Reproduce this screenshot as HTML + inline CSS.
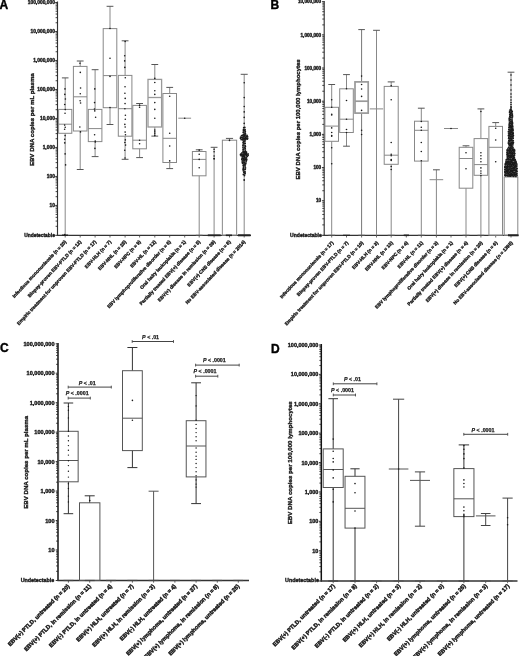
<!DOCTYPE html>
<html><head><meta charset="utf-8"><style>
html,body{margin:0;padding:0;background:#fff;}
svg{display:block;font-family:"Liberation Sans", sans-serif;will-change:transform;}
</style></head><body>
<svg width="520" height="656" viewBox="0 0 520 656">
<rect width="520" height="656" fill="#fff"/>
<line x1="57.50" y1="1.50" x2="57.50" y2="235.90" stroke="#333" stroke-width="1.15"/>
<line x1="55.20" y1="2.50" x2="57.50" y2="2.50" stroke="#333" stroke-width="1.0"/>
<text x="54.90" y="4.26" font-size="4.9" text-anchor="end" font-weight="bold" fill="#1a1a1a" stroke="#1a1a1a" stroke-width="0.36">100,000,000</text>
<line x1="55.20" y1="31.49" x2="57.50" y2="31.49" stroke="#333" stroke-width="1.0"/>
<text x="54.90" y="33.25" font-size="4.9" text-anchor="end" font-weight="bold" fill="#1a1a1a" stroke="#1a1a1a" stroke-width="0.36">10,000,000</text>
<line x1="55.20" y1="60.48" x2="57.50" y2="60.48" stroke="#333" stroke-width="1.0"/>
<text x="54.90" y="62.24" font-size="4.9" text-anchor="end" font-weight="bold" fill="#1a1a1a" stroke="#1a1a1a" stroke-width="0.36">1,000,000</text>
<line x1="55.20" y1="89.47" x2="57.50" y2="89.47" stroke="#333" stroke-width="1.0"/>
<text x="54.90" y="91.23" font-size="4.9" text-anchor="end" font-weight="bold" fill="#1a1a1a" stroke="#1a1a1a" stroke-width="0.36">100,000</text>
<line x1="55.20" y1="118.46" x2="57.50" y2="118.46" stroke="#333" stroke-width="1.0"/>
<text x="54.90" y="120.22" font-size="4.9" text-anchor="end" font-weight="bold" fill="#1a1a1a" stroke="#1a1a1a" stroke-width="0.36">10,000</text>
<line x1="55.20" y1="147.45" x2="57.50" y2="147.45" stroke="#333" stroke-width="1.0"/>
<text x="54.90" y="149.21" font-size="4.9" text-anchor="end" font-weight="bold" fill="#1a1a1a" stroke="#1a1a1a" stroke-width="0.36">1,000</text>
<line x1="55.20" y1="176.44" x2="57.50" y2="176.44" stroke="#333" stroke-width="1.0"/>
<text x="54.90" y="178.20" font-size="4.9" text-anchor="end" font-weight="bold" fill="#1a1a1a" stroke="#1a1a1a" stroke-width="0.36">100</text>
<line x1="55.20" y1="205.43" x2="57.50" y2="205.43" stroke="#333" stroke-width="1.0"/>
<text x="54.90" y="207.19" font-size="4.9" text-anchor="end" font-weight="bold" fill="#1a1a1a" stroke="#1a1a1a" stroke-width="0.36">10</text>
<line x1="55.20" y1="235.30" x2="57.50" y2="235.30" stroke="#333" stroke-width="1.0"/>
<text x="54.90" y="237.06" font-size="4.9" text-anchor="end" font-weight="bold" fill="#1a1a1a" stroke="#1a1a1a" stroke-width="0.36">Undetectable</text>
<line x1="55.60" y1="22.76" x2="57.50" y2="22.76" stroke="#222" stroke-width="0.85"/>
<line x1="55.60" y1="17.66" x2="57.50" y2="17.66" stroke="#222" stroke-width="0.85"/>
<line x1="55.60" y1="14.04" x2="57.50" y2="14.04" stroke="#222" stroke-width="0.85"/>
<line x1="55.60" y1="11.23" x2="57.50" y2="11.23" stroke="#222" stroke-width="0.85"/>
<line x1="55.60" y1="8.93" x2="57.50" y2="8.93" stroke="#222" stroke-width="0.85"/>
<line x1="55.60" y1="6.99" x2="57.50" y2="6.99" stroke="#222" stroke-width="0.85"/>
<line x1="55.60" y1="5.31" x2="57.50" y2="5.31" stroke="#222" stroke-width="0.85"/>
<line x1="55.60" y1="3.83" x2="57.50" y2="3.83" stroke="#222" stroke-width="0.85"/>
<line x1="55.60" y1="51.75" x2="57.50" y2="51.75" stroke="#222" stroke-width="0.85"/>
<line x1="55.60" y1="46.65" x2="57.50" y2="46.65" stroke="#222" stroke-width="0.85"/>
<line x1="55.60" y1="43.03" x2="57.50" y2="43.03" stroke="#222" stroke-width="0.85"/>
<line x1="55.60" y1="40.22" x2="57.50" y2="40.22" stroke="#222" stroke-width="0.85"/>
<line x1="55.60" y1="37.92" x2="57.50" y2="37.92" stroke="#222" stroke-width="0.85"/>
<line x1="55.60" y1="35.98" x2="57.50" y2="35.98" stroke="#222" stroke-width="0.85"/>
<line x1="55.60" y1="34.30" x2="57.50" y2="34.30" stroke="#222" stroke-width="0.85"/>
<line x1="55.60" y1="32.82" x2="57.50" y2="32.82" stroke="#222" stroke-width="0.85"/>
<line x1="55.60" y1="80.74" x2="57.50" y2="80.74" stroke="#222" stroke-width="0.85"/>
<line x1="55.60" y1="75.64" x2="57.50" y2="75.64" stroke="#222" stroke-width="0.85"/>
<line x1="55.60" y1="72.02" x2="57.50" y2="72.02" stroke="#222" stroke-width="0.85"/>
<line x1="55.60" y1="69.21" x2="57.50" y2="69.21" stroke="#222" stroke-width="0.85"/>
<line x1="55.60" y1="66.91" x2="57.50" y2="66.91" stroke="#222" stroke-width="0.85"/>
<line x1="55.60" y1="64.97" x2="57.50" y2="64.97" stroke="#222" stroke-width="0.85"/>
<line x1="55.60" y1="63.29" x2="57.50" y2="63.29" stroke="#222" stroke-width="0.85"/>
<line x1="55.60" y1="61.81" x2="57.50" y2="61.81" stroke="#222" stroke-width="0.85"/>
<line x1="55.60" y1="109.73" x2="57.50" y2="109.73" stroke="#222" stroke-width="0.85"/>
<line x1="55.60" y1="104.63" x2="57.50" y2="104.63" stroke="#222" stroke-width="0.85"/>
<line x1="55.60" y1="101.01" x2="57.50" y2="101.01" stroke="#222" stroke-width="0.85"/>
<line x1="55.60" y1="98.20" x2="57.50" y2="98.20" stroke="#222" stroke-width="0.85"/>
<line x1="55.60" y1="95.90" x2="57.50" y2="95.90" stroke="#222" stroke-width="0.85"/>
<line x1="55.60" y1="93.96" x2="57.50" y2="93.96" stroke="#222" stroke-width="0.85"/>
<line x1="55.60" y1="92.28" x2="57.50" y2="92.28" stroke="#222" stroke-width="0.85"/>
<line x1="55.60" y1="90.80" x2="57.50" y2="90.80" stroke="#222" stroke-width="0.85"/>
<line x1="55.60" y1="138.72" x2="57.50" y2="138.72" stroke="#222" stroke-width="0.85"/>
<line x1="55.60" y1="133.62" x2="57.50" y2="133.62" stroke="#222" stroke-width="0.85"/>
<line x1="55.60" y1="130.00" x2="57.50" y2="130.00" stroke="#222" stroke-width="0.85"/>
<line x1="55.60" y1="127.19" x2="57.50" y2="127.19" stroke="#222" stroke-width="0.85"/>
<line x1="55.60" y1="124.89" x2="57.50" y2="124.89" stroke="#222" stroke-width="0.85"/>
<line x1="55.60" y1="122.95" x2="57.50" y2="122.95" stroke="#222" stroke-width="0.85"/>
<line x1="55.60" y1="121.27" x2="57.50" y2="121.27" stroke="#222" stroke-width="0.85"/>
<line x1="55.60" y1="119.79" x2="57.50" y2="119.79" stroke="#222" stroke-width="0.85"/>
<line x1="55.60" y1="167.71" x2="57.50" y2="167.71" stroke="#222" stroke-width="0.85"/>
<line x1="55.60" y1="162.61" x2="57.50" y2="162.61" stroke="#222" stroke-width="0.85"/>
<line x1="55.60" y1="158.99" x2="57.50" y2="158.99" stroke="#222" stroke-width="0.85"/>
<line x1="55.60" y1="156.18" x2="57.50" y2="156.18" stroke="#222" stroke-width="0.85"/>
<line x1="55.60" y1="153.88" x2="57.50" y2="153.88" stroke="#222" stroke-width="0.85"/>
<line x1="55.60" y1="151.94" x2="57.50" y2="151.94" stroke="#222" stroke-width="0.85"/>
<line x1="55.60" y1="150.26" x2="57.50" y2="150.26" stroke="#222" stroke-width="0.85"/>
<line x1="55.60" y1="148.78" x2="57.50" y2="148.78" stroke="#222" stroke-width="0.85"/>
<line x1="55.60" y1="196.70" x2="57.50" y2="196.70" stroke="#222" stroke-width="0.85"/>
<line x1="55.60" y1="191.60" x2="57.50" y2="191.60" stroke="#222" stroke-width="0.85"/>
<line x1="55.60" y1="187.98" x2="57.50" y2="187.98" stroke="#222" stroke-width="0.85"/>
<line x1="55.60" y1="185.17" x2="57.50" y2="185.17" stroke="#222" stroke-width="0.85"/>
<line x1="55.60" y1="182.87" x2="57.50" y2="182.87" stroke="#222" stroke-width="0.85"/>
<line x1="55.60" y1="180.93" x2="57.50" y2="180.93" stroke="#222" stroke-width="0.85"/>
<line x1="55.60" y1="179.25" x2="57.50" y2="179.25" stroke="#222" stroke-width="0.85"/>
<line x1="55.60" y1="177.77" x2="57.50" y2="177.77" stroke="#222" stroke-width="0.85"/>
<line x1="55.60" y1="226.31" x2="57.50" y2="226.31" stroke="#222" stroke-width="0.85"/>
<line x1="55.60" y1="221.05" x2="57.50" y2="221.05" stroke="#222" stroke-width="0.85"/>
<line x1="55.60" y1="217.32" x2="57.50" y2="217.32" stroke="#222" stroke-width="0.85"/>
<line x1="55.60" y1="214.42" x2="57.50" y2="214.42" stroke="#222" stroke-width="0.85"/>
<line x1="55.60" y1="212.06" x2="57.50" y2="212.06" stroke="#222" stroke-width="0.85"/>
<line x1="55.60" y1="210.06" x2="57.50" y2="210.06" stroke="#222" stroke-width="0.85"/>
<line x1="55.60" y1="208.32" x2="57.50" y2="208.32" stroke="#222" stroke-width="0.85"/>
<line x1="55.60" y1="206.80" x2="57.50" y2="206.80" stroke="#222" stroke-width="0.85"/>
<line x1="56.90" y1="235.30" x2="251.00" y2="235.30" stroke="#333" stroke-width="1.3"/>
<line x1="65.20" y1="235.30" x2="65.20" y2="237.50" stroke="#444" stroke-width="0.8"/>
<line x1="80.20" y1="235.30" x2="80.20" y2="237.50" stroke="#444" stroke-width="0.8"/>
<line x1="95.10" y1="235.30" x2="95.10" y2="237.50" stroke="#444" stroke-width="0.8"/>
<line x1="110.00" y1="235.30" x2="110.00" y2="237.50" stroke="#444" stroke-width="0.8"/>
<line x1="125.10" y1="235.30" x2="125.10" y2="237.50" stroke="#444" stroke-width="0.8"/>
<line x1="139.60" y1="235.30" x2="139.60" y2="237.50" stroke="#444" stroke-width="0.8"/>
<line x1="154.80" y1="235.30" x2="154.80" y2="237.50" stroke="#444" stroke-width="0.8"/>
<line x1="169.70" y1="235.30" x2="169.70" y2="237.50" stroke="#444" stroke-width="0.8"/>
<line x1="184.70" y1="235.30" x2="184.70" y2="237.50" stroke="#444" stroke-width="0.8"/>
<line x1="199.20" y1="235.30" x2="199.20" y2="237.50" stroke="#444" stroke-width="0.8"/>
<line x1="214.10" y1="235.30" x2="214.10" y2="237.50" stroke="#444" stroke-width="0.8"/>
<line x1="229.50" y1="235.30" x2="229.50" y2="237.50" stroke="#444" stroke-width="0.8"/>
<line x1="244.20" y1="235.30" x2="244.20" y2="237.50" stroke="#444" stroke-width="0.8"/>
<line x1="65.20" y1="77.90" x2="65.20" y2="109.40" stroke="#888" stroke-width="1.0"/>
<line x1="61.90" y1="77.90" x2="68.50" y2="77.90" stroke="#555" stroke-width="1.0"/>
<line x1="65.20" y1="133.30" x2="65.20" y2="235.30" stroke="#888" stroke-width="1.0"/>
<line x1="61.90" y1="235.30" x2="68.50" y2="235.30" stroke="#555" stroke-width="1.0"/>
<rect x="58.60" y="109.40" width="13.20" height="23.90" fill="none" stroke="#888" stroke-width="1.0"/>
<line x1="58.60" y1="124.20" x2="71.80" y2="124.20" stroke="#888" stroke-width="1.0"/>
<line x1="80.20" y1="61.00" x2="80.20" y2="66.40" stroke="#888" stroke-width="1.0"/>
<line x1="76.80" y1="61.00" x2="83.60" y2="61.00" stroke="#555" stroke-width="1.0"/>
<line x1="80.20" y1="131.00" x2="80.20" y2="169.50" stroke="#888" stroke-width="1.0"/>
<line x1="76.80" y1="169.50" x2="83.60" y2="169.50" stroke="#555" stroke-width="1.0"/>
<rect x="73.40" y="66.40" width="13.60" height="64.60" fill="none" stroke="#888" stroke-width="1.0"/>
<line x1="73.40" y1="96.80" x2="87.00" y2="96.80" stroke="#888" stroke-width="1.0"/>
<line x1="95.10" y1="69.70" x2="95.10" y2="109.40" stroke="#888" stroke-width="1.0"/>
<line x1="91.70" y1="69.70" x2="98.50" y2="69.70" stroke="#555" stroke-width="1.0"/>
<line x1="95.10" y1="141.60" x2="95.10" y2="156.60" stroke="#888" stroke-width="1.0"/>
<line x1="91.70" y1="156.60" x2="98.50" y2="156.60" stroke="#555" stroke-width="1.0"/>
<rect x="88.30" y="109.40" width="13.60" height="32.20" fill="none" stroke="#888" stroke-width="1.0"/>
<line x1="88.30" y1="128.60" x2="101.90" y2="128.60" stroke="#888" stroke-width="1.0"/>
<line x1="110.00" y1="6.30" x2="110.00" y2="28.60" stroke="#888" stroke-width="1.0"/>
<line x1="106.60" y1="6.30" x2="113.40" y2="6.30" stroke="#555" stroke-width="1.0"/>
<line x1="110.00" y1="107.70" x2="110.00" y2="124.50" stroke="#888" stroke-width="1.0"/>
<line x1="106.60" y1="124.50" x2="113.40" y2="124.50" stroke="#555" stroke-width="1.0"/>
<rect x="103.20" y="28.60" width="13.60" height="79.10" fill="none" stroke="#888" stroke-width="1.0"/>
<line x1="103.20" y1="75.60" x2="116.80" y2="75.60" stroke="#888" stroke-width="1.0"/>
<line x1="125.10" y1="40.80" x2="125.10" y2="75.40" stroke="#888" stroke-width="1.0"/>
<line x1="121.70" y1="40.80" x2="128.50" y2="40.80" stroke="#555" stroke-width="1.0"/>
<line x1="125.10" y1="136.20" x2="125.10" y2="159.30" stroke="#888" stroke-width="1.0"/>
<line x1="121.70" y1="159.30" x2="128.50" y2="159.30" stroke="#555" stroke-width="1.0"/>
<rect x="118.30" y="75.40" width="13.60" height="60.80" fill="none" stroke="#888" stroke-width="1.0"/>
<line x1="118.30" y1="108.70" x2="131.90" y2="108.70" stroke="#888" stroke-width="1.0"/>
<line x1="139.60" y1="103.50" x2="139.60" y2="105.40" stroke="#888" stroke-width="1.0"/>
<line x1="136.20" y1="103.50" x2="143.00" y2="103.50" stroke="#555" stroke-width="1.0"/>
<line x1="139.60" y1="148.80" x2="139.60" y2="157.60" stroke="#888" stroke-width="1.0"/>
<line x1="136.20" y1="157.60" x2="143.00" y2="157.60" stroke="#555" stroke-width="1.0"/>
<rect x="132.80" y="105.40" width="13.60" height="43.40" fill="none" stroke="#888" stroke-width="1.0"/>
<line x1="132.80" y1="140.20" x2="146.40" y2="140.20" stroke="#888" stroke-width="1.0"/>
<line x1="154.80" y1="64.50" x2="154.80" y2="79.40" stroke="#888" stroke-width="1.0"/>
<line x1="151.40" y1="64.50" x2="158.20" y2="64.50" stroke="#555" stroke-width="1.0"/>
<line x1="154.80" y1="127.00" x2="154.80" y2="136.10" stroke="#888" stroke-width="1.0"/>
<line x1="151.40" y1="136.10" x2="158.20" y2="136.10" stroke="#555" stroke-width="1.0"/>
<rect x="148.00" y="79.40" width="13.60" height="47.60" fill="none" stroke="#999" stroke-width="1.3"/>
<line x1="148.00" y1="97.50" x2="161.60" y2="97.50" stroke="#999" stroke-width="1.3"/>
<line x1="169.70" y1="87.40" x2="169.70" y2="93.50" stroke="#888" stroke-width="1.0"/>
<line x1="166.30" y1="87.40" x2="173.10" y2="87.40" stroke="#555" stroke-width="1.0"/>
<line x1="169.70" y1="162.50" x2="169.70" y2="168.60" stroke="#888" stroke-width="1.0"/>
<line x1="166.30" y1="168.60" x2="173.10" y2="168.60" stroke="#555" stroke-width="1.0"/>
<rect x="162.90" y="93.50" width="13.60" height="69.00" fill="none" stroke="#888" stroke-width="1.0"/>
<line x1="162.90" y1="138.30" x2="176.50" y2="138.30" stroke="#888" stroke-width="1.0"/>
<line x1="178.30" y1="118.20" x2="191.10" y2="118.20" stroke="#888" stroke-width="1.0"/>
<line x1="199.20" y1="149.80" x2="199.20" y2="151.50" stroke="#888" stroke-width="1.0"/>
<line x1="195.80" y1="149.80" x2="202.60" y2="149.80" stroke="#555" stroke-width="1.0"/>
<line x1="199.20" y1="175.80" x2="199.20" y2="235.30" stroke="#888" stroke-width="1.0"/>
<line x1="195.80" y1="235.30" x2="202.60" y2="235.30" stroke="#555" stroke-width="1.0"/>
<rect x="192.40" y="151.50" width="13.60" height="24.30" fill="none" stroke="#888" stroke-width="1.0"/>
<line x1="192.40" y1="159.40" x2="206.00" y2="159.40" stroke="#888" stroke-width="1.0"/>
<line x1="214.10" y1="147.30" x2="214.10" y2="235.30" stroke="#888" stroke-width="1.0"/>
<line x1="210.70" y1="147.30" x2="217.50" y2="147.30" stroke="#555" stroke-width="1.0"/>
<line x1="229.50" y1="138.40" x2="229.50" y2="140.20" stroke="#888" stroke-width="1.0"/>
<line x1="225.93" y1="138.40" x2="233.07" y2="138.40" stroke="#555" stroke-width="1.0"/>
<rect x="222.36" y="140.20" width="14.28" height="95.10" fill="none" stroke="#888" stroke-width="1.0"/>
<line x1="244.20" y1="74.30" x2="244.20" y2="235.30" stroke="#888" stroke-width="1.0"/>
<line x1="240.70" y1="74.30" x2="247.70" y2="74.30" stroke="#555" stroke-width="1.0"/>
<circle cx="64.99" cy="88.90" r="0.8" fill="#1a1a1a"/>
<circle cx="64.78" cy="94.40" r="0.8" fill="#1a1a1a"/>
<circle cx="65.38" cy="99.00" r="0.8" fill="#1a1a1a"/>
<circle cx="64.69" cy="104.50" r="0.8" fill="#1a1a1a"/>
<circle cx="65.24" cy="109.60" r="0.8" fill="#1a1a1a"/>
<circle cx="65.04" cy="113.20" r="0.8" fill="#1a1a1a"/>
<circle cx="64.67" cy="125.10" r="0.8" fill="#1a1a1a"/>
<circle cx="65.21" cy="127.30" r="0.8" fill="#1a1a1a"/>
<circle cx="64.64" cy="129.20" r="0.8" fill="#1a1a1a"/>
<circle cx="65.12" cy="135.60" r="0.8" fill="#1a1a1a"/>
<circle cx="64.68" cy="139.20" r="0.8" fill="#1a1a1a"/>
<circle cx="64.71" cy="142.90" r="0.8" fill="#1a1a1a"/>
<circle cx="65.11" cy="153.90" r="0.8" fill="#1a1a1a"/>
<circle cx="65.59" cy="164.90" r="0.8" fill="#1a1a1a"/>
<circle cx="64.75" cy="234.50" r="0.8" fill="#1a1a1a"/>
<circle cx="79.98" cy="63.20" r="0.8" fill="#1a1a1a"/>
<circle cx="80.30" cy="72.40" r="0.8" fill="#1a1a1a"/>
<circle cx="80.56" cy="88.00" r="0.8" fill="#1a1a1a"/>
<circle cx="80.26" cy="93.80" r="0.8" fill="#1a1a1a"/>
<circle cx="80.12" cy="100.80" r="0.8" fill="#1a1a1a"/>
<circle cx="80.58" cy="103.00" r="0.8" fill="#1a1a1a"/>
<circle cx="79.84" cy="127.00" r="0.8" fill="#1a1a1a"/>
<circle cx="80.49" cy="131.90" r="0.8" fill="#1a1a1a"/>
<circle cx="94.76" cy="88.90" r="0.8" fill="#1a1a1a"/>
<circle cx="94.53" cy="102.60" r="0.8" fill="#1a1a1a"/>
<circle cx="94.49" cy="109.00" r="0.8" fill="#1a1a1a"/>
<circle cx="94.79" cy="110.90" r="0.8" fill="#1a1a1a"/>
<circle cx="95.61" cy="117.30" r="0.8" fill="#1a1a1a"/>
<circle cx="94.59" cy="134.70" r="0.8" fill="#1a1a1a"/>
<circle cx="95.23" cy="141.10" r="0.8" fill="#1a1a1a"/>
<circle cx="95.32" cy="142.00" r="0.8" fill="#1a1a1a"/>
<circle cx="94.90" cy="148.40" r="0.8" fill="#1a1a1a"/>
<circle cx="110.00" cy="28.50" r="0.8" fill="#1a1a1a"/>
<circle cx="110.00" cy="58.30" r="0.8" fill="#1a1a1a"/>
<circle cx="110.00" cy="76.40" r="0.8" fill="#1a1a1a"/>
<circle cx="110.00" cy="107.50" r="0.8" fill="#1a1a1a"/>
<circle cx="125.15" cy="41.50" r="0.8" fill="#1a1a1a"/>
<circle cx="124.66" cy="55.70" r="0.8" fill="#1a1a1a"/>
<circle cx="124.66" cy="60.90" r="0.8" fill="#1a1a1a"/>
<circle cx="124.81" cy="67.40" r="0.8" fill="#1a1a1a"/>
<circle cx="125.28" cy="77.70" r="0.8" fill="#1a1a1a"/>
<circle cx="125.03" cy="86.80" r="0.8" fill="#1a1a1a"/>
<circle cx="124.91" cy="93.30" r="0.8" fill="#1a1a1a"/>
<circle cx="125.19" cy="98.40" r="0.8" fill="#1a1a1a"/>
<circle cx="125.05" cy="103.60" r="0.8" fill="#1a1a1a"/>
<circle cx="124.90" cy="108.80" r="0.8" fill="#1a1a1a"/>
<circle cx="125.39" cy="115.30" r="0.8" fill="#1a1a1a"/>
<circle cx="125.30" cy="119.20" r="0.8" fill="#1a1a1a"/>
<circle cx="124.84" cy="124.40" r="0.8" fill="#1a1a1a"/>
<circle cx="125.17" cy="127.00" r="0.8" fill="#1a1a1a"/>
<circle cx="125.13" cy="132.10" r="0.8" fill="#1a1a1a"/>
<circle cx="125.48" cy="134.70" r="0.8" fill="#1a1a1a"/>
<circle cx="125.33" cy="139.90" r="0.8" fill="#1a1a1a"/>
<circle cx="124.89" cy="142.50" r="0.8" fill="#1a1a1a"/>
<circle cx="125.58" cy="145.10" r="0.8" fill="#1a1a1a"/>
<circle cx="124.72" cy="150.30" r="0.8" fill="#1a1a1a"/>
<circle cx="125.02" cy="158.00" r="0.8" fill="#1a1a1a"/>
<circle cx="139.60" cy="105.40" r="0.8" fill="#1a1a1a"/>
<circle cx="139.60" cy="107.20" r="0.8" fill="#1a1a1a"/>
<circle cx="139.60" cy="140.20" r="0.8" fill="#1a1a1a"/>
<circle cx="139.60" cy="143.80" r="0.8" fill="#1a1a1a"/>
<circle cx="154.80" cy="78.40" r="0.8" fill="#1a1a1a"/>
<circle cx="154.80" cy="82.50" r="0.8" fill="#1a1a1a"/>
<circle cx="154.80" cy="90.70" r="0.8" fill="#1a1a1a"/>
<circle cx="154.80" cy="94.40" r="0.8" fill="#1a1a1a"/>
<circle cx="154.80" cy="102.60" r="0.8" fill="#1a1a1a"/>
<circle cx="154.80" cy="109.40" r="0.8" fill="#1a1a1a"/>
<circle cx="154.80" cy="118.20" r="0.8" fill="#1a1a1a"/>
<circle cx="154.80" cy="130.10" r="0.8" fill="#1a1a1a"/>
<circle cx="154.80" cy="131.90" r="0.8" fill="#1a1a1a"/>
<circle cx="154.80" cy="133.80" r="0.8" fill="#1a1a1a"/>
<circle cx="154.80" cy="135.60" r="0.8" fill="#1a1a1a"/>
<circle cx="169.70" cy="96.20" r="0.8" fill="#1a1a1a"/>
<circle cx="169.70" cy="133.20" r="0.8" fill="#1a1a1a"/>
<circle cx="169.70" cy="146.00" r="0.8" fill="#1a1a1a"/>
<circle cx="169.70" cy="160.90" r="0.8" fill="#1a1a1a"/>
<circle cx="184.70" cy="118.20" r="0.8" fill="#1a1a1a"/>
<circle cx="199.20" cy="150.10" r="0.8" fill="#1a1a1a"/>
<circle cx="199.20" cy="154.30" r="0.8" fill="#1a1a1a"/>
<circle cx="199.20" cy="159.40" r="0.8" fill="#1a1a1a"/>
<circle cx="199.20" cy="167.80" r="0.8" fill="#1a1a1a"/>
<circle cx="214.10" cy="149.30" r="0.8" fill="#1a1a1a"/>
<circle cx="214.10" cy="151.80" r="0.8" fill="#1a1a1a"/>
<circle cx="214.10" cy="156.00" r="0.8" fill="#1a1a1a"/>
<circle cx="214.10" cy="158.50" r="0.8" fill="#1a1a1a"/>
<circle cx="214.10" cy="158.90" r="0.8" fill="#1a1a1a"/>
<circle cx="229.50" cy="140.40" r="0.8" fill="#1a1a1a"/>
<circle cx="244.20" cy="82.80" r="0.8" fill="#1a1a1a"/>
<circle cx="244.20" cy="97.60" r="0.8" fill="#1a1a1a"/>
<circle cx="244.20" cy="106.50" r="0.8" fill="#1a1a1a"/>
<circle cx="244.20" cy="111.90" r="0.8" fill="#1a1a1a"/>
<circle cx="244.20" cy="117.40" r="0.8" fill="#1a1a1a"/>
<circle cx="244.20" cy="123.40" r="0.8" fill="#1a1a1a"/>
<circle cx="243.75" cy="127.55" r="0.9" fill="#1a1a1a"/>
<circle cx="244.79" cy="127.44" r="0.9" fill="#1a1a1a"/>
<circle cx="243.50" cy="129.46" r="0.9" fill="#1a1a1a"/>
<circle cx="245.04" cy="129.58" r="0.9" fill="#1a1a1a"/>
<circle cx="243.49" cy="130.70" r="0.9" fill="#1a1a1a"/>
<circle cx="244.86" cy="130.58" r="0.9" fill="#1a1a1a"/>
<circle cx="243.37" cy="132.14" r="0.9" fill="#1a1a1a"/>
<circle cx="245.27" cy="131.77" r="0.9" fill="#1a1a1a"/>
<circle cx="243.50" cy="132.66" r="0.9" fill="#1a1a1a"/>
<circle cx="245.12" cy="133.25" r="0.9" fill="#1a1a1a"/>
<circle cx="243.30" cy="134.82" r="0.9" fill="#1a1a1a"/>
<circle cx="244.07" cy="134.39" r="0.9" fill="#1a1a1a"/>
<circle cx="245.50" cy="134.02" r="0.9" fill="#1a1a1a"/>
<circle cx="241.58" cy="135.57" r="0.9" fill="#1a1a1a"/>
<circle cx="242.67" cy="135.46" r="0.9" fill="#1a1a1a"/>
<circle cx="244.36" cy="135.53" r="0.9" fill="#1a1a1a"/>
<circle cx="245.35" cy="135.79" r="0.9" fill="#1a1a1a"/>
<circle cx="247.02" cy="135.48" r="0.9" fill="#1a1a1a"/>
<circle cx="240.67" cy="137.05" r="0.9" fill="#1a1a1a"/>
<circle cx="242.10" cy="137.32" r="0.9" fill="#1a1a1a"/>
<circle cx="243.25" cy="136.78" r="0.9" fill="#1a1a1a"/>
<circle cx="244.15" cy="136.86" r="0.9" fill="#1a1a1a"/>
<circle cx="245.60" cy="137.46" r="0.9" fill="#1a1a1a"/>
<circle cx="246.32" cy="136.68" r="0.9" fill="#1a1a1a"/>
<circle cx="247.54" cy="136.73" r="0.9" fill="#1a1a1a"/>
<circle cx="240.49" cy="138.19" r="0.9" fill="#1a1a1a"/>
<circle cx="241.59" cy="137.60" r="0.9" fill="#1a1a1a"/>
<circle cx="242.92" cy="137.97" r="0.9" fill="#1a1a1a"/>
<circle cx="244.24" cy="138.55" r="0.9" fill="#1a1a1a"/>
<circle cx="245.55" cy="138.12" r="0.9" fill="#1a1a1a"/>
<circle cx="246.74" cy="138.28" r="0.9" fill="#1a1a1a"/>
<circle cx="247.63" cy="138.50" r="0.9" fill="#1a1a1a"/>
<circle cx="241.17" cy="139.57" r="0.9" fill="#1a1a1a"/>
<circle cx="242.46" cy="139.09" r="0.9" fill="#1a1a1a"/>
<circle cx="243.50" cy="138.80" r="0.9" fill="#1a1a1a"/>
<circle cx="244.92" cy="138.76" r="0.9" fill="#1a1a1a"/>
<circle cx="245.86" cy="138.91" r="0.9" fill="#1a1a1a"/>
<circle cx="247.20" cy="139.04" r="0.9" fill="#1a1a1a"/>
<circle cx="242.73" cy="139.90" r="0.9" fill="#1a1a1a"/>
<circle cx="243.99" cy="140.00" r="0.9" fill="#1a1a1a"/>
<circle cx="245.32" cy="139.93" r="0.9" fill="#1a1a1a"/>
<circle cx="243.52" cy="141.71" r="0.9" fill="#1a1a1a"/>
<circle cx="244.89" cy="141.35" r="0.9" fill="#1a1a1a"/>
<circle cx="243.11" cy="142.66" r="0.9" fill="#1a1a1a"/>
<circle cx="244.97" cy="143.15" r="0.9" fill="#1a1a1a"/>
<circle cx="243.60" cy="143.97" r="0.9" fill="#1a1a1a"/>
<circle cx="245.09" cy="143.59" r="0.9" fill="#1a1a1a"/>
<circle cx="242.96" cy="145.04" r="0.9" fill="#1a1a1a"/>
<circle cx="245.06" cy="145.53" r="0.9" fill="#1a1a1a"/>
<circle cx="243.10" cy="145.92" r="0.9" fill="#1a1a1a"/>
<circle cx="245.37" cy="146.43" r="0.9" fill="#1a1a1a"/>
<circle cx="242.99" cy="147.64" r="0.9" fill="#1a1a1a"/>
<circle cx="244.92" cy="147.63" r="0.9" fill="#1a1a1a"/>
<circle cx="243.59" cy="149.16" r="0.9" fill="#1a1a1a"/>
<circle cx="245.22" cy="148.56" r="0.9" fill="#1a1a1a"/>
<circle cx="243.12" cy="149.67" r="0.9" fill="#1a1a1a"/>
<circle cx="245.36" cy="150.03" r="0.9" fill="#1a1a1a"/>
<circle cx="243.17" cy="151.13" r="0.9" fill="#1a1a1a"/>
<circle cx="244.03" cy="151.61" r="0.9" fill="#1a1a1a"/>
<circle cx="245.69" cy="151.65" r="0.9" fill="#1a1a1a"/>
<circle cx="241.98" cy="152.82" r="0.9" fill="#1a1a1a"/>
<circle cx="243.14" cy="152.23" r="0.9" fill="#1a1a1a"/>
<circle cx="244.21" cy="152.36" r="0.9" fill="#1a1a1a"/>
<circle cx="245.12" cy="152.03" r="0.9" fill="#1a1a1a"/>
<circle cx="246.47" cy="152.26" r="0.9" fill="#1a1a1a"/>
<circle cx="240.72" cy="154.06" r="0.9" fill="#1a1a1a"/>
<circle cx="241.77" cy="154.04" r="0.9" fill="#1a1a1a"/>
<circle cx="243.29" cy="154.06" r="0.9" fill="#1a1a1a"/>
<circle cx="244.12" cy="153.32" r="0.9" fill="#1a1a1a"/>
<circle cx="245.24" cy="153.30" r="0.9" fill="#1a1a1a"/>
<circle cx="246.42" cy="153.72" r="0.9" fill="#1a1a1a"/>
<circle cx="248.04" cy="153.94" r="0.9" fill="#1a1a1a"/>
<circle cx="240.49" cy="154.85" r="0.9" fill="#1a1a1a"/>
<circle cx="241.91" cy="154.28" r="0.9" fill="#1a1a1a"/>
<circle cx="243.06" cy="155.11" r="0.9" fill="#1a1a1a"/>
<circle cx="244.37" cy="154.95" r="0.9" fill="#1a1a1a"/>
<circle cx="245.42" cy="154.38" r="0.9" fill="#1a1a1a"/>
<circle cx="246.84" cy="154.53" r="0.9" fill="#1a1a1a"/>
<circle cx="248.08" cy="155.17" r="0.9" fill="#1a1a1a"/>
<circle cx="241.14" cy="155.70" r="0.9" fill="#1a1a1a"/>
<circle cx="242.67" cy="156.02" r="0.9" fill="#1a1a1a"/>
<circle cx="243.40" cy="155.43" r="0.9" fill="#1a1a1a"/>
<circle cx="244.59" cy="156.20" r="0.9" fill="#1a1a1a"/>
<circle cx="246.18" cy="155.45" r="0.9" fill="#1a1a1a"/>
<circle cx="247.40" cy="156.28" r="0.9" fill="#1a1a1a"/>
<circle cx="242.29" cy="156.85" r="0.9" fill="#1a1a1a"/>
<circle cx="243.56" cy="156.63" r="0.9" fill="#1a1a1a"/>
<circle cx="244.58" cy="157.47" r="0.9" fill="#1a1a1a"/>
<circle cx="246.29" cy="157.03" r="0.9" fill="#1a1a1a"/>
<circle cx="242.26" cy="158.23" r="0.9" fill="#1a1a1a"/>
<circle cx="243.32" cy="158.63" r="0.9" fill="#1a1a1a"/>
<circle cx="244.03" cy="158.05" r="0.9" fill="#1a1a1a"/>
<circle cx="245.18" cy="158.04" r="0.9" fill="#1a1a1a"/>
<circle cx="246.45" cy="158.06" r="0.9" fill="#1a1a1a"/>
<circle cx="241.85" cy="159.23" r="0.9" fill="#1a1a1a"/>
<circle cx="243.30" cy="159.45" r="0.9" fill="#1a1a1a"/>
<circle cx="244.17" cy="159.68" r="0.9" fill="#1a1a1a"/>
<circle cx="245.59" cy="159.52" r="0.9" fill="#1a1a1a"/>
<circle cx="246.75" cy="159.60" r="0.9" fill="#1a1a1a"/>
<circle cx="242.22" cy="160.92" r="0.9" fill="#1a1a1a"/>
<circle cx="243.24" cy="160.84" r="0.9" fill="#1a1a1a"/>
<circle cx="244.68" cy="160.40" r="0.9" fill="#1a1a1a"/>
<circle cx="246.38" cy="160.57" r="0.9" fill="#1a1a1a"/>
<circle cx="242.38" cy="162.43" r="0.9" fill="#1a1a1a"/>
<circle cx="243.63" cy="162.03" r="0.9" fill="#1a1a1a"/>
<circle cx="244.81" cy="162.26" r="0.9" fill="#1a1a1a"/>
<circle cx="246.17" cy="161.81" r="0.9" fill="#1a1a1a"/>
<circle cx="242.64" cy="163.25" r="0.9" fill="#1a1a1a"/>
<circle cx="244.07" cy="163.77" r="0.9" fill="#1a1a1a"/>
<circle cx="245.80" cy="163.56" r="0.9" fill="#1a1a1a"/>
<circle cx="243.26" cy="165.21" r="0.9" fill="#1a1a1a"/>
<circle cx="244.17" cy="164.91" r="0.9" fill="#1a1a1a"/>
<circle cx="245.30" cy="164.81" r="0.9" fill="#1a1a1a"/>
<circle cx="243.42" cy="166.05" r="0.9" fill="#1a1a1a"/>
<circle cx="245.12" cy="166.08" r="0.9" fill="#1a1a1a"/>
<circle cx="243.46" cy="167.60" r="0.9" fill="#1a1a1a"/>
<circle cx="245.43" cy="167.84" r="0.9" fill="#1a1a1a"/>
<circle cx="243.26" cy="168.76" r="0.9" fill="#1a1a1a"/>
<circle cx="245.27" cy="169.04" r="0.9" fill="#1a1a1a"/>
<circle cx="243.18" cy="169.62" r="0.9" fill="#1a1a1a"/>
<circle cx="244.97" cy="169.57" r="0.9" fill="#1a1a1a"/>
<circle cx="243.34" cy="170.87" r="0.9" fill="#1a1a1a"/>
<circle cx="245.00" cy="171.58" r="0.9" fill="#1a1a1a"/>
<circle cx="243.84" cy="172.25" r="0.9" fill="#1a1a1a"/>
<circle cx="244.93" cy="172.76" r="0.9" fill="#1a1a1a"/>
<circle cx="243.39" cy="174.38" r="0.9" fill="#1a1a1a"/>
<circle cx="245.08" cy="173.72" r="0.9" fill="#1a1a1a"/>
<circle cx="244.47" cy="175.50" r="0.9" fill="#1a1a1a"/>
<circle cx="244.19" cy="179.99" r="0.9" fill="#1a1a1a"/>
<line x1="207.80" y1="235.30" x2="220.70" y2="235.30" stroke="#222" stroke-width="1.8"/>
<line x1="225.80" y1="235.30" x2="232.00" y2="235.30" stroke="#222" stroke-width="1.6"/>
<line x1="238.00" y1="235.30" x2="250.50" y2="235.30" stroke="#222" stroke-width="2.0"/>
<line x1="62.00" y1="235.30" x2="68.00" y2="235.30" stroke="#222" stroke-width="1.4"/>
<text x="0.00" y="0.00" font-size="4.75" text-anchor="end" font-weight="bold" fill="#1a1a1a" stroke="#1a1a1a" stroke-width="0.36" transform="translate(66.70 242.10) rotate(-47)">Infectious mononucleosis (n = 20)</text>
<text x="0.00" y="0.00" font-size="4.75" text-anchor="end" font-weight="bold" fill="#1a1a1a" stroke="#1a1a1a" stroke-width="0.36" transform="translate(81.70 242.10) rotate(-47)">Biopsy-proven EBV-PTLD (n = 12)</text>
<text x="0.00" y="0.00" font-size="4.75" text-anchor="end" font-weight="bold" fill="#1a1a1a" stroke="#1a1a1a" stroke-width="0.36" transform="translate(96.60 242.10) rotate(-47)">Empiric treatment for unproven EBV-PTLD (n = 17)</text>
<text x="0.00" y="0.00" font-size="4.75" text-anchor="end" font-weight="bold" fill="#1a1a1a" stroke="#1a1a1a" stroke-width="0.36" transform="translate(111.50 242.10) rotate(-47)">EBV-HLH (n = 7)</text>
<text x="0.00" y="0.00" font-size="4.75" text-anchor="end" font-weight="bold" fill="#1a1a1a" stroke="#1a1a1a" stroke-width="0.36" transform="translate(126.60 242.10) rotate(-47)">EBV-NHL (n = 25)</text>
<text x="0.00" y="0.00" font-size="4.75" text-anchor="end" font-weight="bold" fill="#1a1a1a" stroke="#1a1a1a" stroke-width="0.36" transform="translate(141.10 242.10) rotate(-47)">EBV-NPC (n = 9)</text>
<text x="0.00" y="0.00" font-size="4.75" text-anchor="end" font-weight="bold" fill="#1a1a1a" stroke="#1a1a1a" stroke-width="0.36" transform="translate(156.30 242.10) rotate(-47)">EBV-HL (n = 12)</text>
<text x="0.00" y="0.00" font-size="4.75" text-anchor="end" font-weight="bold" fill="#1a1a1a" stroke="#1a1a1a" stroke-width="0.36" transform="translate(171.20 242.10) rotate(-47)">EBV lymphoproliferative disorder (n = 6)</text>
<text x="0.00" y="0.00" font-size="4.75" text-anchor="end" font-weight="bold" fill="#1a1a1a" stroke="#1a1a1a" stroke-width="0.36" transform="translate(186.20 242.10) rotate(-47)">Oral hairy leukoplakia (n = 1)</text>
<text x="0.00" y="0.00" font-size="4.75" text-anchor="end" font-weight="bold" fill="#1a1a1a" stroke="#1a1a1a" stroke-width="0.36" transform="translate(200.70 242.10) rotate(-47)">Partially treated EBV(+) disease (n = 5)</text>
<text x="0.00" y="0.00" font-size="4.75" text-anchor="end" font-weight="bold" fill="#1a1a1a" stroke="#1a1a1a" stroke-width="0.36" transform="translate(215.60 242.10) rotate(-47)">EBV(+) disease in remission (n = 39)</text>
<text x="0.00" y="0.00" font-size="4.75" text-anchor="end" font-weight="bold" fill="#1a1a1a" stroke="#1a1a1a" stroke-width="0.36" transform="translate(231.00 242.10) rotate(-47)">EBV(+) CNS disease (n = 8)</text>
<text x="0.00" y="0.00" font-size="4.75" text-anchor="end" font-weight="bold" fill="#1a1a1a" stroke="#1a1a1a" stroke-width="0.36" transform="translate(245.70 242.10) rotate(-47)">No EBV-associated disease (n = 2014)</text>
<text x="0.00" y="0.00" font-size="6.1" text-anchor="middle" font-weight="bold" fill="#1a1a1a" stroke="#1a1a1a" stroke-width="0.36" transform="translate(33.90 119.70) rotate(-90)">EBV DNA copies per mL plasma</text>
<text x="-0.50" y="8.70" font-size="12" text-anchor="start" font-weight="bold" fill="#000" stroke="#000" stroke-width="0.4">A</text>
<line x1="324.20" y1="1.00" x2="324.20" y2="235.90" stroke="#333" stroke-width="1.15"/>
<line x1="321.90" y1="1.70" x2="324.20" y2="1.70" stroke="#333" stroke-width="1.0"/>
<text x="321.20" y="3.37" font-size="4.65" text-anchor="end" font-weight="bold" fill="#1a1a1a" stroke="#1a1a1a" stroke-width="0.36">10,000,000</text>
<line x1="321.90" y1="34.87" x2="324.20" y2="34.87" stroke="#333" stroke-width="1.0"/>
<text x="321.20" y="36.54" font-size="4.65" text-anchor="end" font-weight="bold" fill="#1a1a1a" stroke="#1a1a1a" stroke-width="0.36">1,000,000</text>
<line x1="321.90" y1="68.04" x2="324.20" y2="68.04" stroke="#333" stroke-width="1.0"/>
<text x="321.20" y="69.71" font-size="4.65" text-anchor="end" font-weight="bold" fill="#1a1a1a" stroke="#1a1a1a" stroke-width="0.36">100,000</text>
<line x1="321.90" y1="101.21" x2="324.20" y2="101.21" stroke="#333" stroke-width="1.0"/>
<text x="321.20" y="102.88" font-size="4.65" text-anchor="end" font-weight="bold" fill="#1a1a1a" stroke="#1a1a1a" stroke-width="0.36">10,000</text>
<line x1="321.90" y1="134.38" x2="324.20" y2="134.38" stroke="#333" stroke-width="1.0"/>
<text x="321.20" y="136.05" font-size="4.65" text-anchor="end" font-weight="bold" fill="#1a1a1a" stroke="#1a1a1a" stroke-width="0.36">1,000</text>
<line x1="321.90" y1="167.55" x2="324.20" y2="167.55" stroke="#333" stroke-width="1.0"/>
<text x="321.20" y="169.22" font-size="4.65" text-anchor="end" font-weight="bold" fill="#1a1a1a" stroke="#1a1a1a" stroke-width="0.36">100</text>
<line x1="321.90" y1="200.72" x2="324.20" y2="200.72" stroke="#333" stroke-width="1.0"/>
<text x="321.20" y="202.39" font-size="4.65" text-anchor="end" font-weight="bold" fill="#1a1a1a" stroke="#1a1a1a" stroke-width="0.36">10</text>
<line x1="321.90" y1="235.30" x2="324.20" y2="235.30" stroke="#333" stroke-width="1.0"/>
<text x="321.80" y="236.62" font-size="5.05" text-anchor="end" font-weight="bold" fill="#1a1a1a" stroke="#1a1a1a" stroke-width="0.36">Undetectable</text>
<line x1="322.30" y1="24.88" x2="324.20" y2="24.88" stroke="#222" stroke-width="0.85"/>
<line x1="322.30" y1="19.04" x2="324.20" y2="19.04" stroke="#222" stroke-width="0.85"/>
<line x1="322.30" y1="14.90" x2="324.20" y2="14.90" stroke="#222" stroke-width="0.85"/>
<line x1="322.30" y1="11.69" x2="324.20" y2="11.69" stroke="#222" stroke-width="0.85"/>
<line x1="322.30" y1="9.06" x2="324.20" y2="9.06" stroke="#222" stroke-width="0.85"/>
<line x1="322.30" y1="6.84" x2="324.20" y2="6.84" stroke="#222" stroke-width="0.85"/>
<line x1="322.30" y1="4.91" x2="324.20" y2="4.91" stroke="#222" stroke-width="0.85"/>
<line x1="322.30" y1="3.22" x2="324.20" y2="3.22" stroke="#222" stroke-width="0.85"/>
<line x1="322.30" y1="58.05" x2="324.20" y2="58.05" stroke="#222" stroke-width="0.85"/>
<line x1="322.30" y1="52.21" x2="324.20" y2="52.21" stroke="#222" stroke-width="0.85"/>
<line x1="322.30" y1="48.07" x2="324.20" y2="48.07" stroke="#222" stroke-width="0.85"/>
<line x1="322.30" y1="44.86" x2="324.20" y2="44.86" stroke="#222" stroke-width="0.85"/>
<line x1="322.30" y1="42.23" x2="324.20" y2="42.23" stroke="#222" stroke-width="0.85"/>
<line x1="322.30" y1="40.01" x2="324.20" y2="40.01" stroke="#222" stroke-width="0.85"/>
<line x1="322.30" y1="38.08" x2="324.20" y2="38.08" stroke="#222" stroke-width="0.85"/>
<line x1="322.30" y1="36.39" x2="324.20" y2="36.39" stroke="#222" stroke-width="0.85"/>
<line x1="322.30" y1="91.22" x2="324.20" y2="91.22" stroke="#222" stroke-width="0.85"/>
<line x1="322.30" y1="85.38" x2="324.20" y2="85.38" stroke="#222" stroke-width="0.85"/>
<line x1="322.30" y1="81.24" x2="324.20" y2="81.24" stroke="#222" stroke-width="0.85"/>
<line x1="322.30" y1="78.03" x2="324.20" y2="78.03" stroke="#222" stroke-width="0.85"/>
<line x1="322.30" y1="75.40" x2="324.20" y2="75.40" stroke="#222" stroke-width="0.85"/>
<line x1="322.30" y1="73.18" x2="324.20" y2="73.18" stroke="#222" stroke-width="0.85"/>
<line x1="322.30" y1="71.25" x2="324.20" y2="71.25" stroke="#222" stroke-width="0.85"/>
<line x1="322.30" y1="69.56" x2="324.20" y2="69.56" stroke="#222" stroke-width="0.85"/>
<line x1="322.30" y1="124.39" x2="324.20" y2="124.39" stroke="#222" stroke-width="0.85"/>
<line x1="322.30" y1="118.55" x2="324.20" y2="118.55" stroke="#222" stroke-width="0.85"/>
<line x1="322.30" y1="114.41" x2="324.20" y2="114.41" stroke="#222" stroke-width="0.85"/>
<line x1="322.30" y1="111.20" x2="324.20" y2="111.20" stroke="#222" stroke-width="0.85"/>
<line x1="322.30" y1="108.57" x2="324.20" y2="108.57" stroke="#222" stroke-width="0.85"/>
<line x1="322.30" y1="106.35" x2="324.20" y2="106.35" stroke="#222" stroke-width="0.85"/>
<line x1="322.30" y1="104.42" x2="324.20" y2="104.42" stroke="#222" stroke-width="0.85"/>
<line x1="322.30" y1="102.73" x2="324.20" y2="102.73" stroke="#222" stroke-width="0.85"/>
<line x1="322.30" y1="157.56" x2="324.20" y2="157.56" stroke="#222" stroke-width="0.85"/>
<line x1="322.30" y1="151.72" x2="324.20" y2="151.72" stroke="#222" stroke-width="0.85"/>
<line x1="322.30" y1="147.58" x2="324.20" y2="147.58" stroke="#222" stroke-width="0.85"/>
<line x1="322.30" y1="144.37" x2="324.20" y2="144.37" stroke="#222" stroke-width="0.85"/>
<line x1="322.30" y1="141.74" x2="324.20" y2="141.74" stroke="#222" stroke-width="0.85"/>
<line x1="322.30" y1="139.52" x2="324.20" y2="139.52" stroke="#222" stroke-width="0.85"/>
<line x1="322.30" y1="137.59" x2="324.20" y2="137.59" stroke="#222" stroke-width="0.85"/>
<line x1="322.30" y1="135.90" x2="324.20" y2="135.90" stroke="#222" stroke-width="0.85"/>
<line x1="322.30" y1="190.73" x2="324.20" y2="190.73" stroke="#222" stroke-width="0.85"/>
<line x1="322.30" y1="184.89" x2="324.20" y2="184.89" stroke="#222" stroke-width="0.85"/>
<line x1="322.30" y1="180.75" x2="324.20" y2="180.75" stroke="#222" stroke-width="0.85"/>
<line x1="322.30" y1="177.54" x2="324.20" y2="177.54" stroke="#222" stroke-width="0.85"/>
<line x1="322.30" y1="174.91" x2="324.20" y2="174.91" stroke="#222" stroke-width="0.85"/>
<line x1="322.30" y1="172.69" x2="324.20" y2="172.69" stroke="#222" stroke-width="0.85"/>
<line x1="322.30" y1="170.76" x2="324.20" y2="170.76" stroke="#222" stroke-width="0.85"/>
<line x1="322.30" y1="169.07" x2="324.20" y2="169.07" stroke="#222" stroke-width="0.85"/>
<line x1="322.30" y1="224.89" x2="324.20" y2="224.89" stroke="#222" stroke-width="0.85"/>
<line x1="322.30" y1="218.80" x2="324.20" y2="218.80" stroke="#222" stroke-width="0.85"/>
<line x1="322.30" y1="214.48" x2="324.20" y2="214.48" stroke="#222" stroke-width="0.85"/>
<line x1="322.30" y1="211.13" x2="324.20" y2="211.13" stroke="#222" stroke-width="0.85"/>
<line x1="322.30" y1="208.39" x2="324.20" y2="208.39" stroke="#222" stroke-width="0.85"/>
<line x1="322.30" y1="206.08" x2="324.20" y2="206.08" stroke="#222" stroke-width="0.85"/>
<line x1="322.30" y1="204.07" x2="324.20" y2="204.07" stroke="#222" stroke-width="0.85"/>
<line x1="322.30" y1="202.30" x2="324.20" y2="202.30" stroke="#222" stroke-width="0.85"/>
<line x1="323.60" y1="235.30" x2="518.50" y2="235.30" stroke="#333" stroke-width="1.3"/>
<line x1="331.70" y1="235.30" x2="331.70" y2="237.50" stroke="#444" stroke-width="0.8"/>
<line x1="346.50" y1="235.30" x2="346.50" y2="237.50" stroke="#444" stroke-width="0.8"/>
<line x1="361.60" y1="235.30" x2="361.60" y2="237.50" stroke="#444" stroke-width="0.8"/>
<line x1="376.50" y1="235.30" x2="376.50" y2="237.50" stroke="#444" stroke-width="0.8"/>
<line x1="391.20" y1="235.30" x2="391.20" y2="237.50" stroke="#444" stroke-width="0.8"/>
<line x1="406.30" y1="235.30" x2="406.30" y2="237.50" stroke="#444" stroke-width="0.8"/>
<line x1="421.30" y1="235.30" x2="421.30" y2="237.50" stroke="#444" stroke-width="0.8"/>
<line x1="436.40" y1="235.30" x2="436.40" y2="237.50" stroke="#444" stroke-width="0.8"/>
<line x1="451.00" y1="235.30" x2="451.00" y2="237.50" stroke="#444" stroke-width="0.8"/>
<line x1="466.00" y1="235.30" x2="466.00" y2="237.50" stroke="#444" stroke-width="0.8"/>
<line x1="480.90" y1="235.30" x2="480.90" y2="237.50" stroke="#444" stroke-width="0.8"/>
<line x1="495.70" y1="235.30" x2="495.70" y2="237.50" stroke="#444" stroke-width="0.8"/>
<line x1="511.00" y1="235.30" x2="511.00" y2="237.50" stroke="#444" stroke-width="0.8"/>
<line x1="331.70" y1="84.50" x2="331.70" y2="107.30" stroke="#888" stroke-width="1.0"/>
<line x1="328.30" y1="84.50" x2="335.10" y2="84.50" stroke="#555" stroke-width="1.0"/>
<line x1="331.70" y1="141.30" x2="331.70" y2="235.30" stroke="#888" stroke-width="1.0"/>
<line x1="328.30" y1="235.30" x2="335.10" y2="235.30" stroke="#555" stroke-width="1.0"/>
<rect x="324.90" y="107.30" width="13.60" height="34.00" fill="none" stroke="#888" stroke-width="1.0"/>
<line x1="324.90" y1="126.10" x2="338.50" y2="126.10" stroke="#888" stroke-width="1.0"/>
<line x1="346.50" y1="74.60" x2="346.50" y2="88.80" stroke="#888" stroke-width="1.0"/>
<line x1="343.10" y1="74.60" x2="349.90" y2="74.60" stroke="#555" stroke-width="1.0"/>
<line x1="346.50" y1="132.50" x2="346.50" y2="146.20" stroke="#888" stroke-width="1.0"/>
<line x1="343.10" y1="146.20" x2="349.90" y2="146.20" stroke="#555" stroke-width="1.0"/>
<rect x="339.70" y="88.80" width="13.60" height="43.70" fill="none" stroke="#888" stroke-width="1.0"/>
<line x1="339.70" y1="119.20" x2="353.30" y2="119.20" stroke="#888" stroke-width="1.0"/>
<line x1="361.60" y1="29.60" x2="361.60" y2="81.90" stroke="#777" stroke-width="1.0"/>
<line x1="358.30" y1="29.60" x2="364.90" y2="29.60" stroke="#555" stroke-width="1.0"/>
<line x1="361.60" y1="113.10" x2="361.60" y2="235.30" stroke="#777" stroke-width="1.0"/>
<line x1="358.30" y1="235.30" x2="364.90" y2="235.30" stroke="#555" stroke-width="1.0"/>
<rect x="355.00" y="81.90" width="13.20" height="31.20" fill="none" stroke="#999" stroke-width="1.7"/>
<line x1="355.00" y1="101.20" x2="368.20" y2="101.20" stroke="#999" stroke-width="1.7"/>
<line x1="376.50" y1="30.30" x2="376.50" y2="235.30" stroke="#888" stroke-width="1.0"/>
<line x1="373.10" y1="30.30" x2="379.90" y2="30.30" stroke="#555" stroke-width="1.0"/>
<line x1="369.80" y1="108.90" x2="383.20" y2="108.90" stroke="#888" stroke-width="1.0"/>
<line x1="391.20" y1="81.90" x2="391.20" y2="86.40" stroke="#888" stroke-width="1.0"/>
<line x1="387.70" y1="81.90" x2="394.70" y2="81.90" stroke="#555" stroke-width="1.0"/>
<line x1="391.20" y1="164.30" x2="391.20" y2="235.30" stroke="#888" stroke-width="1.0"/>
<line x1="387.70" y1="235.30" x2="394.70" y2="235.30" stroke="#555" stroke-width="1.0"/>
<rect x="384.20" y="86.40" width="14.01" height="77.90" fill="none" stroke="#888" stroke-width="1.0"/>
<line x1="384.20" y1="155.20" x2="398.20" y2="155.20" stroke="#888" stroke-width="1.0"/>
<line x1="421.30" y1="108.20" x2="421.30" y2="121.20" stroke="#888" stroke-width="1.0"/>
<line x1="417.90" y1="108.20" x2="424.70" y2="108.20" stroke="#555" stroke-width="1.0"/>
<line x1="421.30" y1="161.10" x2="421.30" y2="235.30" stroke="#888" stroke-width="1.0"/>
<line x1="417.90" y1="235.30" x2="424.70" y2="235.30" stroke="#555" stroke-width="1.0"/>
<rect x="414.50" y="121.20" width="13.60" height="39.90" fill="none" stroke="#888" stroke-width="1.0"/>
<line x1="414.50" y1="130.30" x2="428.10" y2="130.30" stroke="#888" stroke-width="1.0"/>
<line x1="436.40" y1="169.80" x2="436.40" y2="235.30" stroke="#888" stroke-width="1.0"/>
<line x1="433.00" y1="169.80" x2="439.80" y2="169.80" stroke="#555" stroke-width="1.0"/>
<line x1="429.60" y1="179.70" x2="443.20" y2="179.70" stroke="#888" stroke-width="1.0"/>
<line x1="444.00" y1="128.50" x2="458.00" y2="128.50" stroke="#888" stroke-width="1.0"/>
<line x1="466.00" y1="145.80" x2="466.00" y2="147.30" stroke="#888" stroke-width="1.0"/>
<line x1="462.60" y1="145.80" x2="469.40" y2="145.80" stroke="#555" stroke-width="1.0"/>
<line x1="466.00" y1="188.20" x2="466.00" y2="235.30" stroke="#888" stroke-width="1.0"/>
<line x1="462.60" y1="235.30" x2="469.40" y2="235.30" stroke="#555" stroke-width="1.0"/>
<rect x="459.20" y="147.30" width="13.60" height="40.90" fill="none" stroke="#888" stroke-width="1.0"/>
<line x1="459.20" y1="158.50" x2="472.80" y2="158.50" stroke="#888" stroke-width="1.0"/>
<line x1="480.90" y1="108.90" x2="480.90" y2="138.60" stroke="#888" stroke-width="1.0"/>
<line x1="477.50" y1="108.90" x2="484.30" y2="108.90" stroke="#555" stroke-width="1.0"/>
<line x1="480.90" y1="175.30" x2="480.90" y2="235.30" stroke="#888" stroke-width="1.0"/>
<line x1="477.50" y1="235.30" x2="484.30" y2="235.30" stroke="#555" stroke-width="1.0"/>
<rect x="474.10" y="138.60" width="13.60" height="36.70" fill="none" stroke="#888" stroke-width="1.0"/>
<line x1="474.10" y1="164.60" x2="487.70" y2="164.60" stroke="#888" stroke-width="1.0"/>
<line x1="495.70" y1="122.60" x2="495.70" y2="126.40" stroke="#888" stroke-width="1.0"/>
<line x1="492.30" y1="122.60" x2="499.10" y2="122.60" stroke="#555" stroke-width="1.0"/>
<rect x="488.90" y="126.40" width="13.60" height="108.90" fill="none" stroke="#888" stroke-width="1.0"/>
<line x1="488.90" y1="147.30" x2="502.50" y2="147.30" stroke="#888" stroke-width="1.0"/>
<line x1="511.00" y1="72.20" x2="511.00" y2="177.00" stroke="#888" stroke-width="1.0"/>
<line x1="507.60" y1="72.20" x2="514.40" y2="72.20" stroke="#555" stroke-width="1.0"/>
<rect x="504.20" y="177.00" width="13.60" height="58.30" fill="none" stroke="#888" stroke-width="1.0"/>
<circle cx="331.70" cy="99.70" r="0.8" fill="#1a1a1a"/>
<circle cx="331.70" cy="107.30" r="0.8" fill="#1a1a1a"/>
<circle cx="331.70" cy="114.20" r="0.8" fill="#1a1a1a"/>
<circle cx="331.70" cy="115.00" r="0.8" fill="#1a1a1a"/>
<circle cx="331.70" cy="127.90" r="0.8" fill="#1a1a1a"/>
<circle cx="331.70" cy="132.50" r="0.8" fill="#1a1a1a"/>
<circle cx="331.70" cy="135.50" r="0.8" fill="#1a1a1a"/>
<circle cx="331.70" cy="136.30" r="0.8" fill="#1a1a1a"/>
<circle cx="331.70" cy="147.70" r="0.8" fill="#1a1a1a"/>
<circle cx="331.70" cy="163.80" r="0.8" fill="#1a1a1a"/>
<circle cx="346.50" cy="88.80" r="0.8" fill="#1a1a1a"/>
<circle cx="346.50" cy="100.50" r="0.8" fill="#1a1a1a"/>
<circle cx="346.50" cy="119.20" r="0.8" fill="#1a1a1a"/>
<circle cx="346.50" cy="129.50" r="0.8" fill="#1a1a1a"/>
<circle cx="346.50" cy="132.50" r="0.8" fill="#1a1a1a"/>
<circle cx="361.60" cy="76.10" r="0.8" fill="#1a1a1a"/>
<circle cx="361.60" cy="84.50" r="0.8" fill="#1a1a1a"/>
<circle cx="361.60" cy="89.00" r="0.8" fill="#1a1a1a"/>
<circle cx="361.60" cy="96.40" r="0.8" fill="#1a1a1a"/>
<circle cx="361.60" cy="110.40" r="0.8" fill="#1a1a1a"/>
<circle cx="361.60" cy="130.20" r="0.8" fill="#1a1a1a"/>
<circle cx="361.60" cy="134.50" r="0.8" fill="#1a1a1a"/>
<circle cx="391.20" cy="85.70" r="0.8" fill="#1a1a1a"/>
<circle cx="391.20" cy="99.70" r="0.8" fill="#1a1a1a"/>
<circle cx="391.20" cy="142.50" r="0.8" fill="#1a1a1a"/>
<circle cx="391.20" cy="154.30" r="0.8" fill="#1a1a1a"/>
<circle cx="391.20" cy="155.80" r="0.8" fill="#1a1a1a"/>
<circle cx="391.20" cy="159.60" r="0.8" fill="#1a1a1a"/>
<circle cx="391.20" cy="160.40" r="0.8" fill="#1a1a1a"/>
<circle cx="391.20" cy="166.50" r="0.8" fill="#1a1a1a"/>
<circle cx="391.20" cy="169.50" r="0.8" fill="#1a1a1a"/>
<circle cx="421.30" cy="121.50" r="0.8" fill="#1a1a1a"/>
<circle cx="421.30" cy="127.30" r="0.8" fill="#1a1a1a"/>
<circle cx="421.30" cy="130.20" r="0.8" fill="#1a1a1a"/>
<circle cx="421.30" cy="142.50" r="0.8" fill="#1a1a1a"/>
<circle cx="421.30" cy="151.50" r="0.8" fill="#1a1a1a"/>
<circle cx="421.30" cy="160.80" r="0.8" fill="#1a1a1a"/>
<circle cx="451.00" cy="128.50" r="0.8" fill="#1a1a1a"/>
<circle cx="466.00" cy="152.70" r="0.8" fill="#1a1a1a"/>
<circle cx="466.00" cy="168.70" r="0.8" fill="#1a1a1a"/>
<circle cx="480.90" cy="111.50" r="0.8" fill="#1a1a1a"/>
<circle cx="480.90" cy="152.70" r="0.8" fill="#1a1a1a"/>
<circle cx="480.90" cy="155.70" r="0.8" fill="#1a1a1a"/>
<circle cx="480.90" cy="158.80" r="0.8" fill="#1a1a1a"/>
<circle cx="480.90" cy="161.80" r="0.8" fill="#1a1a1a"/>
<circle cx="480.90" cy="167.90" r="0.8" fill="#1a1a1a"/>
<circle cx="480.90" cy="171.00" r="0.8" fill="#1a1a1a"/>
<circle cx="480.90" cy="173.30" r="0.8" fill="#1a1a1a"/>
<circle cx="480.90" cy="175.60" r="0.8" fill="#1a1a1a"/>
<circle cx="495.70" cy="128.20" r="0.8" fill="#1a1a1a"/>
<circle cx="495.70" cy="140.00" r="0.8" fill="#1a1a1a"/>
<circle cx="495.70" cy="161.80" r="0.8" fill="#1a1a1a"/>
<circle cx="511.00" cy="75.00" r="0.8" fill="#1a1a1a"/>
<circle cx="511.00" cy="80.00" r="0.8" fill="#1a1a1a"/>
<circle cx="511.00" cy="85.00" r="0.8" fill="#1a1a1a"/>
<circle cx="511.00" cy="90.00" r="0.8" fill="#1a1a1a"/>
<circle cx="511.00" cy="94.00" r="0.8" fill="#1a1a1a"/>
<circle cx="511.00" cy="97.00" r="0.8" fill="#1a1a1a"/>
<circle cx="511.00" cy="100.00" r="0.8" fill="#1a1a1a"/>
<circle cx="511.00" cy="102.50" r="0.8" fill="#1a1a1a"/>
<circle cx="511.00" cy="104.50" r="0.8" fill="#1a1a1a"/>
<circle cx="511.00" cy="106.50" r="0.8" fill="#1a1a1a"/>
<circle cx="511.10" cy="107.66" r="0.85" fill="#1a1a1a"/>
<circle cx="510.86" cy="109.02" r="0.85" fill="#1a1a1a"/>
<circle cx="510.20" cy="109.70" r="0.85" fill="#1a1a1a"/>
<circle cx="511.39" cy="110.22" r="0.85" fill="#1a1a1a"/>
<circle cx="509.61" cy="111.05" r="0.85" fill="#1a1a1a"/>
<circle cx="510.86" cy="110.52" r="0.85" fill="#1a1a1a"/>
<circle cx="511.80" cy="111.12" r="0.85" fill="#1a1a1a"/>
<circle cx="509.81" cy="111.56" r="0.85" fill="#1a1a1a"/>
<circle cx="511.19" cy="112.29" r="0.85" fill="#1a1a1a"/>
<circle cx="512.28" cy="111.60" r="0.85" fill="#1a1a1a"/>
<circle cx="509.56" cy="112.54" r="0.85" fill="#1a1a1a"/>
<circle cx="511.07" cy="112.77" r="0.85" fill="#1a1a1a"/>
<circle cx="511.88" cy="112.92" r="0.85" fill="#1a1a1a"/>
<circle cx="509.90" cy="114.32" r="0.85" fill="#1a1a1a"/>
<circle cx="510.76" cy="113.65" r="0.85" fill="#1a1a1a"/>
<circle cx="512.40" cy="114.07" r="0.85" fill="#1a1a1a"/>
<circle cx="509.72" cy="114.59" r="0.85" fill="#1a1a1a"/>
<circle cx="510.63" cy="115.19" r="0.85" fill="#1a1a1a"/>
<circle cx="512.16" cy="114.57" r="0.85" fill="#1a1a1a"/>
<circle cx="509.81" cy="116.13" r="0.85" fill="#1a1a1a"/>
<circle cx="511.08" cy="115.58" r="0.85" fill="#1a1a1a"/>
<circle cx="512.46" cy="115.57" r="0.85" fill="#1a1a1a"/>
<circle cx="509.72" cy="116.95" r="0.85" fill="#1a1a1a"/>
<circle cx="510.80" cy="117.05" r="0.85" fill="#1a1a1a"/>
<circle cx="512.56" cy="116.77" r="0.85" fill="#1a1a1a"/>
<circle cx="509.27" cy="118.03" r="0.85" fill="#1a1a1a"/>
<circle cx="510.74" cy="117.61" r="0.85" fill="#1a1a1a"/>
<circle cx="512.11" cy="117.55" r="0.85" fill="#1a1a1a"/>
<circle cx="509.30" cy="118.81" r="0.85" fill="#1a1a1a"/>
<circle cx="510.78" cy="119.26" r="0.85" fill="#1a1a1a"/>
<circle cx="512.20" cy="119.00" r="0.85" fill="#1a1a1a"/>
<circle cx="509.27" cy="119.85" r="0.85" fill="#1a1a1a"/>
<circle cx="510.61" cy="119.75" r="0.85" fill="#1a1a1a"/>
<circle cx="512.05" cy="120.23" r="0.85" fill="#1a1a1a"/>
<circle cx="509.48" cy="120.69" r="0.85" fill="#1a1a1a"/>
<circle cx="510.88" cy="121.43" r="0.85" fill="#1a1a1a"/>
<circle cx="512.11" cy="121.32" r="0.85" fill="#1a1a1a"/>
<circle cx="509.40" cy="122.00" r="0.85" fill="#1a1a1a"/>
<circle cx="511.10" cy="121.89" r="0.85" fill="#1a1a1a"/>
<circle cx="512.37" cy="122.19" r="0.85" fill="#1a1a1a"/>
<circle cx="509.71" cy="122.84" r="0.85" fill="#1a1a1a"/>
<circle cx="511.10" cy="123.21" r="0.85" fill="#1a1a1a"/>
<circle cx="512.46" cy="122.90" r="0.85" fill="#1a1a1a"/>
<circle cx="509.32" cy="123.55" r="0.85" fill="#1a1a1a"/>
<circle cx="510.68" cy="123.57" r="0.85" fill="#1a1a1a"/>
<circle cx="512.53" cy="123.76" r="0.85" fill="#1a1a1a"/>
<circle cx="509.20" cy="124.58" r="0.85" fill="#1a1a1a"/>
<circle cx="510.60" cy="125.37" r="0.85" fill="#1a1a1a"/>
<circle cx="511.50" cy="124.78" r="0.85" fill="#1a1a1a"/>
<circle cx="512.25" cy="124.79" r="0.85" fill="#1a1a1a"/>
<circle cx="509.21" cy="125.66" r="0.85" fill="#1a1a1a"/>
<circle cx="510.31" cy="125.76" r="0.85" fill="#1a1a1a"/>
<circle cx="511.73" cy="126.47" r="0.85" fill="#1a1a1a"/>
<circle cx="512.59" cy="125.74" r="0.85" fill="#1a1a1a"/>
<circle cx="509.35" cy="126.81" r="0.85" fill="#1a1a1a"/>
<circle cx="510.20" cy="126.50" r="0.85" fill="#1a1a1a"/>
<circle cx="511.44" cy="126.97" r="0.85" fill="#1a1a1a"/>
<circle cx="512.73" cy="126.70" r="0.85" fill="#1a1a1a"/>
<circle cx="508.90" cy="127.50" r="0.85" fill="#1a1a1a"/>
<circle cx="509.76" cy="127.59" r="0.85" fill="#1a1a1a"/>
<circle cx="510.84" cy="127.54" r="0.85" fill="#1a1a1a"/>
<circle cx="511.61" cy="127.80" r="0.85" fill="#1a1a1a"/>
<circle cx="512.74" cy="128.09" r="0.85" fill="#1a1a1a"/>
<circle cx="508.82" cy="129.25" r="0.85" fill="#1a1a1a"/>
<circle cx="509.94" cy="129.22" r="0.85" fill="#1a1a1a"/>
<circle cx="511.13" cy="128.89" r="0.85" fill="#1a1a1a"/>
<circle cx="511.85" cy="129.48" r="0.85" fill="#1a1a1a"/>
<circle cx="512.79" cy="129.22" r="0.85" fill="#1a1a1a"/>
<circle cx="508.79" cy="129.54" r="0.85" fill="#1a1a1a"/>
<circle cx="510.00" cy="130.39" r="0.85" fill="#1a1a1a"/>
<circle cx="510.98" cy="130.23" r="0.85" fill="#1a1a1a"/>
<circle cx="512.19" cy="129.64" r="0.85" fill="#1a1a1a"/>
<circle cx="513.11" cy="130.00" r="0.85" fill="#1a1a1a"/>
<circle cx="508.80" cy="131.30" r="0.85" fill="#1a1a1a"/>
<circle cx="509.95" cy="131.08" r="0.85" fill="#1a1a1a"/>
<circle cx="511.14" cy="131.18" r="0.85" fill="#1a1a1a"/>
<circle cx="512.17" cy="130.73" r="0.85" fill="#1a1a1a"/>
<circle cx="512.92" cy="130.63" r="0.85" fill="#1a1a1a"/>
<circle cx="508.42" cy="131.60" r="0.85" fill="#1a1a1a"/>
<circle cx="509.90" cy="132.06" r="0.85" fill="#1a1a1a"/>
<circle cx="510.98" cy="132.13" r="0.85" fill="#1a1a1a"/>
<circle cx="512.21" cy="131.99" r="0.85" fill="#1a1a1a"/>
<circle cx="513.00" cy="132.30" r="0.85" fill="#1a1a1a"/>
<circle cx="508.55" cy="133.00" r="0.85" fill="#1a1a1a"/>
<circle cx="509.42" cy="133.16" r="0.85" fill="#1a1a1a"/>
<circle cx="510.14" cy="133.24" r="0.85" fill="#1a1a1a"/>
<circle cx="511.25" cy="132.57" r="0.85" fill="#1a1a1a"/>
<circle cx="512.26" cy="133.23" r="0.85" fill="#1a1a1a"/>
<circle cx="513.22" cy="133.24" r="0.85" fill="#1a1a1a"/>
<circle cx="508.79" cy="133.99" r="0.85" fill="#1a1a1a"/>
<circle cx="509.63" cy="133.98" r="0.85" fill="#1a1a1a"/>
<circle cx="511.01" cy="134.27" r="0.85" fill="#1a1a1a"/>
<circle cx="512.17" cy="134.14" r="0.85" fill="#1a1a1a"/>
<circle cx="513.05" cy="133.65" r="0.85" fill="#1a1a1a"/>
<circle cx="508.45" cy="135.24" r="0.85" fill="#1a1a1a"/>
<circle cx="509.63" cy="135.07" r="0.85" fill="#1a1a1a"/>
<circle cx="510.61" cy="134.56" r="0.85" fill="#1a1a1a"/>
<circle cx="511.91" cy="135.17" r="0.85" fill="#1a1a1a"/>
<circle cx="513.32" cy="135.18" r="0.85" fill="#1a1a1a"/>
<circle cx="508.57" cy="136.02" r="0.85" fill="#1a1a1a"/>
<circle cx="509.78" cy="135.97" r="0.85" fill="#1a1a1a"/>
<circle cx="510.67" cy="136.39" r="0.85" fill="#1a1a1a"/>
<circle cx="511.82" cy="136.48" r="0.85" fill="#1a1a1a"/>
<circle cx="513.36" cy="135.52" r="0.85" fill="#1a1a1a"/>
<circle cx="508.78" cy="137.32" r="0.85" fill="#1a1a1a"/>
<circle cx="510.13" cy="136.95" r="0.85" fill="#1a1a1a"/>
<circle cx="510.76" cy="136.71" r="0.85" fill="#1a1a1a"/>
<circle cx="512.22" cy="136.71" r="0.85" fill="#1a1a1a"/>
<circle cx="513.05" cy="136.64" r="0.85" fill="#1a1a1a"/>
<circle cx="508.91" cy="138.45" r="0.85" fill="#1a1a1a"/>
<circle cx="509.68" cy="138.32" r="0.85" fill="#1a1a1a"/>
<circle cx="510.91" cy="138.39" r="0.85" fill="#1a1a1a"/>
<circle cx="512.02" cy="137.73" r="0.85" fill="#1a1a1a"/>
<circle cx="513.14" cy="137.99" r="0.85" fill="#1a1a1a"/>
<circle cx="508.58" cy="138.50" r="0.85" fill="#1a1a1a"/>
<circle cx="509.88" cy="138.95" r="0.85" fill="#1a1a1a"/>
<circle cx="510.78" cy="138.64" r="0.85" fill="#1a1a1a"/>
<circle cx="511.82" cy="138.82" r="0.85" fill="#1a1a1a"/>
<circle cx="513.14" cy="138.50" r="0.85" fill="#1a1a1a"/>
<circle cx="508.98" cy="140.34" r="0.85" fill="#1a1a1a"/>
<circle cx="509.64" cy="140.43" r="0.85" fill="#1a1a1a"/>
<circle cx="511.03" cy="140.40" r="0.85" fill="#1a1a1a"/>
<circle cx="511.81" cy="139.87" r="0.85" fill="#1a1a1a"/>
<circle cx="512.90" cy="140.50" r="0.85" fill="#1a1a1a"/>
<circle cx="508.85" cy="140.86" r="0.85" fill="#1a1a1a"/>
<circle cx="509.81" cy="140.78" r="0.85" fill="#1a1a1a"/>
<circle cx="510.63" cy="140.60" r="0.85" fill="#1a1a1a"/>
<circle cx="512.15" cy="140.79" r="0.85" fill="#1a1a1a"/>
<circle cx="513.26" cy="140.75" r="0.85" fill="#1a1a1a"/>
<circle cx="508.46" cy="142.01" r="0.85" fill="#1a1a1a"/>
<circle cx="509.56" cy="141.87" r="0.85" fill="#1a1a1a"/>
<circle cx="511.17" cy="142.38" r="0.85" fill="#1a1a1a"/>
<circle cx="512.24" cy="142.13" r="0.85" fill="#1a1a1a"/>
<circle cx="513.45" cy="142.44" r="0.85" fill="#1a1a1a"/>
<circle cx="508.43" cy="143.22" r="0.85" fill="#1a1a1a"/>
<circle cx="509.13" cy="143.23" r="0.85" fill="#1a1a1a"/>
<circle cx="510.37" cy="143.25" r="0.85" fill="#1a1a1a"/>
<circle cx="511.49" cy="142.79" r="0.85" fill="#1a1a1a"/>
<circle cx="512.13" cy="143.43" r="0.85" fill="#1a1a1a"/>
<circle cx="513.18" cy="142.97" r="0.85" fill="#1a1a1a"/>
<circle cx="508.74" cy="143.80" r="0.85" fill="#1a1a1a"/>
<circle cx="510.01" cy="144.48" r="0.85" fill="#1a1a1a"/>
<circle cx="510.76" cy="144.16" r="0.85" fill="#1a1a1a"/>
<circle cx="511.81" cy="144.06" r="0.85" fill="#1a1a1a"/>
<circle cx="512.90" cy="143.67" r="0.85" fill="#1a1a1a"/>
<circle cx="509.06" cy="144.71" r="0.85" fill="#1a1a1a"/>
<circle cx="510.60" cy="145.00" r="0.85" fill="#1a1a1a"/>
<circle cx="511.28" cy="145.41" r="0.85" fill="#1a1a1a"/>
<circle cx="512.83" cy="144.95" r="0.85" fill="#1a1a1a"/>
<circle cx="509.48" cy="145.69" r="0.85" fill="#1a1a1a"/>
<circle cx="510.65" cy="145.84" r="0.85" fill="#1a1a1a"/>
<circle cx="511.85" cy="145.74" r="0.85" fill="#1a1a1a"/>
<circle cx="509.01" cy="147.07" r="0.85" fill="#1a1a1a"/>
<circle cx="510.55" cy="147.25" r="0.85" fill="#1a1a1a"/>
<circle cx="511.43" cy="146.91" r="0.85" fill="#1a1a1a"/>
<circle cx="512.66" cy="146.88" r="0.85" fill="#1a1a1a"/>
<circle cx="508.50" cy="147.56" r="0.85" fill="#1a1a1a"/>
<circle cx="509.62" cy="148.47" r="0.85" fill="#1a1a1a"/>
<circle cx="510.68" cy="148.00" r="0.85" fill="#1a1a1a"/>
<circle cx="512.13" cy="148.36" r="0.85" fill="#1a1a1a"/>
<circle cx="513.03" cy="147.77" r="0.85" fill="#1a1a1a"/>
<circle cx="507.85" cy="148.90" r="0.85" fill="#1a1a1a"/>
<circle cx="509.13" cy="149.45" r="0.85" fill="#1a1a1a"/>
<circle cx="510.53" cy="149.37" r="0.85" fill="#1a1a1a"/>
<circle cx="511.19" cy="148.53" r="0.85" fill="#1a1a1a"/>
<circle cx="512.77" cy="149.40" r="0.85" fill="#1a1a1a"/>
<circle cx="513.78" cy="149.09" r="0.85" fill="#1a1a1a"/>
<circle cx="507.10" cy="149.89" r="0.85" fill="#1a1a1a"/>
<circle cx="508.66" cy="150.33" r="0.85" fill="#1a1a1a"/>
<circle cx="509.61" cy="150.47" r="0.85" fill="#1a1a1a"/>
<circle cx="510.25" cy="149.61" r="0.85" fill="#1a1a1a"/>
<circle cx="511.19" cy="150.02" r="0.85" fill="#1a1a1a"/>
<circle cx="512.51" cy="150.44" r="0.85" fill="#1a1a1a"/>
<circle cx="513.53" cy="150.15" r="0.85" fill="#1a1a1a"/>
<circle cx="514.56" cy="149.96" r="0.85" fill="#1a1a1a"/>
<circle cx="507.30" cy="150.54" r="0.85" fill="#1a1a1a"/>
<circle cx="508.47" cy="150.73" r="0.85" fill="#1a1a1a"/>
<circle cx="509.59" cy="151.15" r="0.85" fill="#1a1a1a"/>
<circle cx="510.26" cy="150.63" r="0.85" fill="#1a1a1a"/>
<circle cx="511.27" cy="151.14" r="0.85" fill="#1a1a1a"/>
<circle cx="512.58" cy="150.61" r="0.85" fill="#1a1a1a"/>
<circle cx="513.24" cy="151.02" r="0.85" fill="#1a1a1a"/>
<circle cx="514.58" cy="150.89" r="0.85" fill="#1a1a1a"/>
<circle cx="506.97" cy="152.10" r="0.85" fill="#1a1a1a"/>
<circle cx="507.92" cy="151.80" r="0.85" fill="#1a1a1a"/>
<circle cx="509.26" cy="152.46" r="0.85" fill="#1a1a1a"/>
<circle cx="510.45" cy="152.38" r="0.85" fill="#1a1a1a"/>
<circle cx="511.42" cy="151.73" r="0.85" fill="#1a1a1a"/>
<circle cx="512.36" cy="152.46" r="0.85" fill="#1a1a1a"/>
<circle cx="513.71" cy="151.81" r="0.85" fill="#1a1a1a"/>
<circle cx="514.38" cy="152.00" r="0.85" fill="#1a1a1a"/>
<circle cx="507.10" cy="152.92" r="0.85" fill="#1a1a1a"/>
<circle cx="507.97" cy="153.17" r="0.85" fill="#1a1a1a"/>
<circle cx="509.48" cy="152.73" r="0.85" fill="#1a1a1a"/>
<circle cx="510.06" cy="152.84" r="0.85" fill="#1a1a1a"/>
<circle cx="511.41" cy="153.18" r="0.85" fill="#1a1a1a"/>
<circle cx="512.39" cy="153.30" r="0.85" fill="#1a1a1a"/>
<circle cx="513.83" cy="153.00" r="0.85" fill="#1a1a1a"/>
<circle cx="514.62" cy="153.47" r="0.85" fill="#1a1a1a"/>
<circle cx="506.99" cy="154.32" r="0.85" fill="#1a1a1a"/>
<circle cx="508.02" cy="153.72" r="0.85" fill="#1a1a1a"/>
<circle cx="509.43" cy="153.79" r="0.85" fill="#1a1a1a"/>
<circle cx="510.63" cy="154.00" r="0.85" fill="#1a1a1a"/>
<circle cx="511.26" cy="153.72" r="0.85" fill="#1a1a1a"/>
<circle cx="512.48" cy="154.17" r="0.85" fill="#1a1a1a"/>
<circle cx="513.88" cy="153.65" r="0.85" fill="#1a1a1a"/>
<circle cx="514.64" cy="153.71" r="0.85" fill="#1a1a1a"/>
<circle cx="507.48" cy="154.64" r="0.85" fill="#1a1a1a"/>
<circle cx="507.99" cy="154.56" r="0.85" fill="#1a1a1a"/>
<circle cx="509.25" cy="155.40" r="0.85" fill="#1a1a1a"/>
<circle cx="510.60" cy="155.23" r="0.85" fill="#1a1a1a"/>
<circle cx="511.73" cy="155.43" r="0.85" fill="#1a1a1a"/>
<circle cx="512.38" cy="154.69" r="0.85" fill="#1a1a1a"/>
<circle cx="513.80" cy="155.25" r="0.85" fill="#1a1a1a"/>
<circle cx="514.32" cy="155.16" r="0.85" fill="#1a1a1a"/>
<circle cx="507.23" cy="155.87" r="0.85" fill="#1a1a1a"/>
<circle cx="508.23" cy="155.67" r="0.85" fill="#1a1a1a"/>
<circle cx="509.06" cy="155.78" r="0.85" fill="#1a1a1a"/>
<circle cx="510.30" cy="156.46" r="0.85" fill="#1a1a1a"/>
<circle cx="511.19" cy="156.46" r="0.85" fill="#1a1a1a"/>
<circle cx="512.27" cy="155.86" r="0.85" fill="#1a1a1a"/>
<circle cx="513.66" cy="156.32" r="0.85" fill="#1a1a1a"/>
<circle cx="514.46" cy="155.55" r="0.85" fill="#1a1a1a"/>
<circle cx="507.38" cy="156.87" r="0.85" fill="#1a1a1a"/>
<circle cx="508.65" cy="156.69" r="0.85" fill="#1a1a1a"/>
<circle cx="509.32" cy="157.40" r="0.85" fill="#1a1a1a"/>
<circle cx="510.12" cy="156.91" r="0.85" fill="#1a1a1a"/>
<circle cx="511.59" cy="157.27" r="0.85" fill="#1a1a1a"/>
<circle cx="512.12" cy="156.53" r="0.85" fill="#1a1a1a"/>
<circle cx="513.14" cy="157.42" r="0.85" fill="#1a1a1a"/>
<circle cx="514.25" cy="157.25" r="0.85" fill="#1a1a1a"/>
<circle cx="507.34" cy="157.84" r="0.85" fill="#1a1a1a"/>
<circle cx="508.05" cy="158.46" r="0.85" fill="#1a1a1a"/>
<circle cx="509.34" cy="157.76" r="0.85" fill="#1a1a1a"/>
<circle cx="510.49" cy="157.82" r="0.85" fill="#1a1a1a"/>
<circle cx="511.31" cy="157.50" r="0.85" fill="#1a1a1a"/>
<circle cx="512.68" cy="158.42" r="0.85" fill="#1a1a1a"/>
<circle cx="513.69" cy="158.44" r="0.85" fill="#1a1a1a"/>
<circle cx="514.41" cy="157.73" r="0.85" fill="#1a1a1a"/>
<circle cx="506.79" cy="159.46" r="0.85" fill="#1a1a1a"/>
<circle cx="508.10" cy="158.89" r="0.85" fill="#1a1a1a"/>
<circle cx="508.70" cy="158.93" r="0.85" fill="#1a1a1a"/>
<circle cx="509.87" cy="159.43" r="0.85" fill="#1a1a1a"/>
<circle cx="510.71" cy="159.30" r="0.85" fill="#1a1a1a"/>
<circle cx="512.07" cy="159.32" r="0.85" fill="#1a1a1a"/>
<circle cx="513.11" cy="159.11" r="0.85" fill="#1a1a1a"/>
<circle cx="513.87" cy="158.82" r="0.85" fill="#1a1a1a"/>
<circle cx="514.92" cy="159.28" r="0.85" fill="#1a1a1a"/>
<circle cx="506.25" cy="159.70" r="0.85" fill="#1a1a1a"/>
<circle cx="507.75" cy="159.75" r="0.85" fill="#1a1a1a"/>
<circle cx="508.44" cy="159.53" r="0.85" fill="#1a1a1a"/>
<circle cx="509.83" cy="159.83" r="0.85" fill="#1a1a1a"/>
<circle cx="511.19" cy="160.38" r="0.85" fill="#1a1a1a"/>
<circle cx="512.29" cy="159.76" r="0.85" fill="#1a1a1a"/>
<circle cx="512.85" cy="159.60" r="0.85" fill="#1a1a1a"/>
<circle cx="514.20" cy="160.21" r="0.85" fill="#1a1a1a"/>
<circle cx="515.27" cy="159.73" r="0.85" fill="#1a1a1a"/>
<circle cx="506.05" cy="161.12" r="0.85" fill="#1a1a1a"/>
<circle cx="507.27" cy="161.25" r="0.85" fill="#1a1a1a"/>
<circle cx="508.44" cy="161.16" r="0.85" fill="#1a1a1a"/>
<circle cx="509.07" cy="161.34" r="0.85" fill="#1a1a1a"/>
<circle cx="510.24" cy="161.07" r="0.85" fill="#1a1a1a"/>
<circle cx="511.36" cy="161.24" r="0.85" fill="#1a1a1a"/>
<circle cx="512.32" cy="160.75" r="0.85" fill="#1a1a1a"/>
<circle cx="513.41" cy="160.65" r="0.85" fill="#1a1a1a"/>
<circle cx="514.86" cy="161.08" r="0.85" fill="#1a1a1a"/>
<circle cx="515.60" cy="160.90" r="0.85" fill="#1a1a1a"/>
<circle cx="506.00" cy="162.01" r="0.85" fill="#1a1a1a"/>
<circle cx="506.58" cy="162.31" r="0.85" fill="#1a1a1a"/>
<circle cx="507.87" cy="162.49" r="0.85" fill="#1a1a1a"/>
<circle cx="508.58" cy="161.97" r="0.85" fill="#1a1a1a"/>
<circle cx="510.05" cy="162.34" r="0.85" fill="#1a1a1a"/>
<circle cx="511.15" cy="161.54" r="0.85" fill="#1a1a1a"/>
<circle cx="511.82" cy="161.62" r="0.85" fill="#1a1a1a"/>
<circle cx="512.79" cy="162.47" r="0.85" fill="#1a1a1a"/>
<circle cx="514.07" cy="162.43" r="0.85" fill="#1a1a1a"/>
<circle cx="514.98" cy="162.37" r="0.85" fill="#1a1a1a"/>
<circle cx="516.07" cy="161.76" r="0.85" fill="#1a1a1a"/>
<circle cx="505.47" cy="163.45" r="0.85" fill="#1a1a1a"/>
<circle cx="506.08" cy="163.10" r="0.85" fill="#1a1a1a"/>
<circle cx="507.41" cy="162.72" r="0.85" fill="#1a1a1a"/>
<circle cx="508.28" cy="162.64" r="0.85" fill="#1a1a1a"/>
<circle cx="509.20" cy="162.75" r="0.85" fill="#1a1a1a"/>
<circle cx="510.45" cy="163.15" r="0.85" fill="#1a1a1a"/>
<circle cx="511.23" cy="162.51" r="0.85" fill="#1a1a1a"/>
<circle cx="512.32" cy="163.18" r="0.85" fill="#1a1a1a"/>
<circle cx="513.26" cy="162.81" r="0.85" fill="#1a1a1a"/>
<circle cx="514.29" cy="163.30" r="0.85" fill="#1a1a1a"/>
<circle cx="515.51" cy="162.56" r="0.85" fill="#1a1a1a"/>
<circle cx="516.26" cy="162.90" r="0.85" fill="#1a1a1a"/>
<circle cx="505.29" cy="164.14" r="0.85" fill="#1a1a1a"/>
<circle cx="506.04" cy="163.66" r="0.85" fill="#1a1a1a"/>
<circle cx="507.43" cy="163.91" r="0.85" fill="#1a1a1a"/>
<circle cx="508.21" cy="163.81" r="0.85" fill="#1a1a1a"/>
<circle cx="509.63" cy="163.81" r="0.85" fill="#1a1a1a"/>
<circle cx="510.43" cy="163.86" r="0.85" fill="#1a1a1a"/>
<circle cx="511.36" cy="164.36" r="0.85" fill="#1a1a1a"/>
<circle cx="512.74" cy="163.86" r="0.85" fill="#1a1a1a"/>
<circle cx="513.28" cy="164.23" r="0.85" fill="#1a1a1a"/>
<circle cx="514.31" cy="163.51" r="0.85" fill="#1a1a1a"/>
<circle cx="515.76" cy="163.92" r="0.85" fill="#1a1a1a"/>
<circle cx="516.74" cy="163.91" r="0.85" fill="#1a1a1a"/>
<circle cx="505.44" cy="164.96" r="0.85" fill="#1a1a1a"/>
<circle cx="506.05" cy="164.51" r="0.85" fill="#1a1a1a"/>
<circle cx="507.31" cy="165.14" r="0.85" fill="#1a1a1a"/>
<circle cx="508.56" cy="164.59" r="0.85" fill="#1a1a1a"/>
<circle cx="509.42" cy="164.87" r="0.85" fill="#1a1a1a"/>
<circle cx="510.39" cy="164.65" r="0.85" fill="#1a1a1a"/>
<circle cx="511.29" cy="165.02" r="0.85" fill="#1a1a1a"/>
<circle cx="512.71" cy="164.61" r="0.85" fill="#1a1a1a"/>
<circle cx="513.48" cy="165.30" r="0.85" fill="#1a1a1a"/>
<circle cx="514.80" cy="164.70" r="0.85" fill="#1a1a1a"/>
<circle cx="515.33" cy="165.44" r="0.85" fill="#1a1a1a"/>
<circle cx="516.87" cy="164.98" r="0.85" fill="#1a1a1a"/>
<circle cx="504.90" cy="166.43" r="0.85" fill="#1a1a1a"/>
<circle cx="506.15" cy="166.40" r="0.85" fill="#1a1a1a"/>
<circle cx="507.33" cy="166.32" r="0.85" fill="#1a1a1a"/>
<circle cx="508.09" cy="166.29" r="0.85" fill="#1a1a1a"/>
<circle cx="509.17" cy="165.90" r="0.85" fill="#1a1a1a"/>
<circle cx="510.59" cy="166.33" r="0.85" fill="#1a1a1a"/>
<circle cx="511.23" cy="165.72" r="0.85" fill="#1a1a1a"/>
<circle cx="512.40" cy="166.02" r="0.85" fill="#1a1a1a"/>
<circle cx="513.43" cy="165.62" r="0.85" fill="#1a1a1a"/>
<circle cx="514.39" cy="166.22" r="0.85" fill="#1a1a1a"/>
<circle cx="515.83" cy="165.54" r="0.85" fill="#1a1a1a"/>
<circle cx="516.67" cy="166.26" r="0.85" fill="#1a1a1a"/>
<circle cx="504.85" cy="167.34" r="0.85" fill="#1a1a1a"/>
<circle cx="505.95" cy="167.10" r="0.85" fill="#1a1a1a"/>
<circle cx="507.26" cy="167.13" r="0.85" fill="#1a1a1a"/>
<circle cx="508.16" cy="166.92" r="0.85" fill="#1a1a1a"/>
<circle cx="509.38" cy="166.93" r="0.85" fill="#1a1a1a"/>
<circle cx="510.47" cy="166.95" r="0.85" fill="#1a1a1a"/>
<circle cx="511.39" cy="166.52" r="0.85" fill="#1a1a1a"/>
<circle cx="512.55" cy="166.99" r="0.85" fill="#1a1a1a"/>
<circle cx="513.36" cy="167.26" r="0.85" fill="#1a1a1a"/>
<circle cx="514.74" cy="166.96" r="0.85" fill="#1a1a1a"/>
<circle cx="515.43" cy="166.97" r="0.85" fill="#1a1a1a"/>
<circle cx="516.44" cy="166.63" r="0.85" fill="#1a1a1a"/>
<circle cx="505.04" cy="167.59" r="0.85" fill="#1a1a1a"/>
<circle cx="506.11" cy="168.01" r="0.85" fill="#1a1a1a"/>
<circle cx="506.92" cy="168.14" r="0.85" fill="#1a1a1a"/>
<circle cx="508.01" cy="168.23" r="0.85" fill="#1a1a1a"/>
<circle cx="509.48" cy="168.01" r="0.85" fill="#1a1a1a"/>
<circle cx="510.10" cy="168.00" r="0.85" fill="#1a1a1a"/>
<circle cx="511.36" cy="168.45" r="0.85" fill="#1a1a1a"/>
<circle cx="512.27" cy="168.36" r="0.85" fill="#1a1a1a"/>
<circle cx="513.84" cy="168.23" r="0.85" fill="#1a1a1a"/>
<circle cx="514.79" cy="167.69" r="0.85" fill="#1a1a1a"/>
<circle cx="515.95" cy="167.99" r="0.85" fill="#1a1a1a"/>
<circle cx="516.99" cy="168.42" r="0.85" fill="#1a1a1a"/>
<circle cx="504.84" cy="169.29" r="0.85" fill="#1a1a1a"/>
<circle cx="506.37" cy="168.57" r="0.85" fill="#1a1a1a"/>
<circle cx="507.08" cy="169.26" r="0.85" fill="#1a1a1a"/>
<circle cx="508.03" cy="169.40" r="0.85" fill="#1a1a1a"/>
<circle cx="509.17" cy="169.32" r="0.85" fill="#1a1a1a"/>
<circle cx="510.15" cy="169.00" r="0.85" fill="#1a1a1a"/>
<circle cx="511.68" cy="168.71" r="0.85" fill="#1a1a1a"/>
<circle cx="512.36" cy="169.01" r="0.85" fill="#1a1a1a"/>
<circle cx="513.45" cy="168.54" r="0.85" fill="#1a1a1a"/>
<circle cx="514.44" cy="168.66" r="0.85" fill="#1a1a1a"/>
<circle cx="515.95" cy="169.18" r="0.85" fill="#1a1a1a"/>
<circle cx="516.99" cy="168.67" r="0.85" fill="#1a1a1a"/>
<circle cx="505.17" cy="169.62" r="0.85" fill="#1a1a1a"/>
<circle cx="506.09" cy="170.14" r="0.85" fill="#1a1a1a"/>
<circle cx="507.06" cy="170.37" r="0.85" fill="#1a1a1a"/>
<circle cx="508.25" cy="170.08" r="0.85" fill="#1a1a1a"/>
<circle cx="509.52" cy="169.60" r="0.85" fill="#1a1a1a"/>
<circle cx="510.66" cy="170.13" r="0.85" fill="#1a1a1a"/>
<circle cx="511.37" cy="170.30" r="0.85" fill="#1a1a1a"/>
<circle cx="512.37" cy="170.49" r="0.85" fill="#1a1a1a"/>
<circle cx="513.63" cy="169.86" r="0.85" fill="#1a1a1a"/>
<circle cx="514.81" cy="169.94" r="0.85" fill="#1a1a1a"/>
<circle cx="515.53" cy="170.24" r="0.85" fill="#1a1a1a"/>
<circle cx="516.53" cy="170.32" r="0.85" fill="#1a1a1a"/>
<circle cx="504.87" cy="171.14" r="0.85" fill="#1a1a1a"/>
<circle cx="506.38" cy="171.09" r="0.85" fill="#1a1a1a"/>
<circle cx="507.25" cy="170.81" r="0.85" fill="#1a1a1a"/>
<circle cx="507.93" cy="170.53" r="0.85" fill="#1a1a1a"/>
<circle cx="509.09" cy="171.12" r="0.85" fill="#1a1a1a"/>
<circle cx="510.32" cy="171.01" r="0.85" fill="#1a1a1a"/>
<circle cx="511.67" cy="170.63" r="0.85" fill="#1a1a1a"/>
<circle cx="512.34" cy="171.15" r="0.85" fill="#1a1a1a"/>
<circle cx="513.29" cy="170.50" r="0.85" fill="#1a1a1a"/>
<circle cx="514.56" cy="170.61" r="0.85" fill="#1a1a1a"/>
<circle cx="515.63" cy="170.72" r="0.85" fill="#1a1a1a"/>
<circle cx="516.83" cy="171.09" r="0.85" fill="#1a1a1a"/>
<circle cx="504.86" cy="172.12" r="0.85" fill="#1a1a1a"/>
<circle cx="506.08" cy="171.63" r="0.85" fill="#1a1a1a"/>
<circle cx="507.43" cy="171.74" r="0.85" fill="#1a1a1a"/>
<circle cx="508.02" cy="171.60" r="0.85" fill="#1a1a1a"/>
<circle cx="509.38" cy="172.37" r="0.85" fill="#1a1a1a"/>
<circle cx="510.54" cy="171.90" r="0.85" fill="#1a1a1a"/>
<circle cx="511.29" cy="171.51" r="0.85" fill="#1a1a1a"/>
<circle cx="512.59" cy="172.06" r="0.85" fill="#1a1a1a"/>
<circle cx="513.48" cy="172.15" r="0.85" fill="#1a1a1a"/>
<circle cx="514.60" cy="172.44" r="0.85" fill="#1a1a1a"/>
<circle cx="515.84" cy="171.75" r="0.85" fill="#1a1a1a"/>
<circle cx="517.01" cy="171.54" r="0.85" fill="#1a1a1a"/>
<circle cx="505.07" cy="172.91" r="0.85" fill="#1a1a1a"/>
<circle cx="505.96" cy="172.56" r="0.85" fill="#1a1a1a"/>
<circle cx="507.34" cy="172.51" r="0.85" fill="#1a1a1a"/>
<circle cx="508.27" cy="173.44" r="0.85" fill="#1a1a1a"/>
<circle cx="509.09" cy="172.70" r="0.85" fill="#1a1a1a"/>
<circle cx="510.43" cy="173.01" r="0.85" fill="#1a1a1a"/>
<circle cx="511.52" cy="173.31" r="0.85" fill="#1a1a1a"/>
<circle cx="512.30" cy="172.81" r="0.85" fill="#1a1a1a"/>
<circle cx="513.44" cy="172.55" r="0.85" fill="#1a1a1a"/>
<circle cx="514.86" cy="173.28" r="0.85" fill="#1a1a1a"/>
<circle cx="515.82" cy="172.51" r="0.85" fill="#1a1a1a"/>
<circle cx="516.96" cy="173.25" r="0.85" fill="#1a1a1a"/>
<circle cx="505.05" cy="174.24" r="0.85" fill="#1a1a1a"/>
<circle cx="506.10" cy="173.73" r="0.85" fill="#1a1a1a"/>
<circle cx="506.95" cy="173.73" r="0.85" fill="#1a1a1a"/>
<circle cx="507.97" cy="173.84" r="0.85" fill="#1a1a1a"/>
<circle cx="509.46" cy="174.20" r="0.85" fill="#1a1a1a"/>
<circle cx="510.58" cy="174.21" r="0.85" fill="#1a1a1a"/>
<circle cx="511.29" cy="174.05" r="0.85" fill="#1a1a1a"/>
<circle cx="512.45" cy="174.29" r="0.85" fill="#1a1a1a"/>
<circle cx="513.57" cy="173.77" r="0.85" fill="#1a1a1a"/>
<circle cx="514.70" cy="174.47" r="0.85" fill="#1a1a1a"/>
<circle cx="515.50" cy="174.38" r="0.85" fill="#1a1a1a"/>
<circle cx="516.44" cy="173.76" r="0.85" fill="#1a1a1a"/>
<circle cx="504.92" cy="175.24" r="0.85" fill="#1a1a1a"/>
<circle cx="506.41" cy="175.25" r="0.85" fill="#1a1a1a"/>
<circle cx="507.09" cy="175.38" r="0.85" fill="#1a1a1a"/>
<circle cx="508.15" cy="174.74" r="0.85" fill="#1a1a1a"/>
<circle cx="509.56" cy="175.13" r="0.85" fill="#1a1a1a"/>
<circle cx="510.49" cy="175.17" r="0.85" fill="#1a1a1a"/>
<circle cx="511.72" cy="174.97" r="0.85" fill="#1a1a1a"/>
<circle cx="512.69" cy="175.20" r="0.85" fill="#1a1a1a"/>
<circle cx="513.76" cy="174.94" r="0.85" fill="#1a1a1a"/>
<circle cx="514.74" cy="175.07" r="0.85" fill="#1a1a1a"/>
<circle cx="515.54" cy="174.71" r="0.85" fill="#1a1a1a"/>
<circle cx="516.79" cy="174.58" r="0.85" fill="#1a1a1a"/>
<circle cx="505.35" cy="175.64" r="0.85" fill="#1a1a1a"/>
<circle cx="505.87" cy="175.61" r="0.85" fill="#1a1a1a"/>
<circle cx="507.47" cy="175.84" r="0.85" fill="#1a1a1a"/>
<circle cx="508.05" cy="175.53" r="0.85" fill="#1a1a1a"/>
<circle cx="509.04" cy="176.19" r="0.85" fill="#1a1a1a"/>
<circle cx="510.45" cy="176.20" r="0.85" fill="#1a1a1a"/>
<circle cx="511.57" cy="175.57" r="0.85" fill="#1a1a1a"/>
<circle cx="512.54" cy="175.86" r="0.85" fill="#1a1a1a"/>
<circle cx="513.73" cy="176.32" r="0.85" fill="#1a1a1a"/>
<circle cx="514.83" cy="175.57" r="0.85" fill="#1a1a1a"/>
<circle cx="515.87" cy="176.41" r="0.85" fill="#1a1a1a"/>
<circle cx="516.97" cy="175.61" r="0.85" fill="#1a1a1a"/>
<line x1="403.70" y1="235.30" x2="409.00" y2="235.30" stroke="#222" stroke-width="1.6"/>
<line x1="508.00" y1="235.30" x2="518.50" y2="235.30" stroke="#222" stroke-width="2.0"/>
<line x1="343.00" y1="235.30" x2="350.00" y2="235.30" stroke="#222" stroke-width="1.2"/>
<text x="0.00" y="0.00" font-size="4.72" text-anchor="end" font-weight="bold" fill="#1a1a1a" stroke="#1a1a1a" stroke-width="0.36" transform="translate(333.70 243.20) rotate(-47)">Infectious mononucleosis (n = 17)</text>
<text x="0.00" y="0.00" font-size="4.72" text-anchor="end" font-weight="bold" fill="#1a1a1a" stroke="#1a1a1a" stroke-width="0.36" transform="translate(348.50 243.20) rotate(-47)">Biopsy-proven EBV-PTLD (n = 7)</text>
<text x="0.00" y="0.00" font-size="4.72" text-anchor="end" font-weight="bold" fill="#1a1a1a" stroke="#1a1a1a" stroke-width="0.36" transform="translate(363.60 243.20) rotate(-47)">Empiric treatment for unproven EBV-PTLD (n = 10)</text>
<text x="0.00" y="0.00" font-size="4.72" text-anchor="end" font-weight="bold" fill="#1a1a1a" stroke="#1a1a1a" stroke-width="0.36" transform="translate(378.50 243.20) rotate(-47)">EBV-HLH (n = 3)</text>
<text x="0.00" y="0.00" font-size="4.72" text-anchor="end" font-weight="bold" fill="#1a1a1a" stroke="#1a1a1a" stroke-width="0.36" transform="translate(393.20 243.20) rotate(-47)">EBV-NHL (n = 13)</text>
<text x="0.00" y="0.00" font-size="4.72" text-anchor="end" font-weight="bold" fill="#1a1a1a" stroke="#1a1a1a" stroke-width="0.36" transform="translate(408.30 243.20) rotate(-47)">EBV-NPC (n = 4)</text>
<text x="0.00" y="0.00" font-size="4.72" text-anchor="end" font-weight="bold" fill="#1a1a1a" stroke="#1a1a1a" stroke-width="0.36" transform="translate(423.30 243.20) rotate(-47)">EBV-HL (n = 11)</text>
<text x="0.00" y="0.00" font-size="4.72" text-anchor="end" font-weight="bold" fill="#1a1a1a" stroke="#1a1a1a" stroke-width="0.36" transform="translate(438.40 243.20) rotate(-47)">EBV lymphoproliferative disorder (n = 3)</text>
<text x="0.00" y="0.00" font-size="4.72" text-anchor="end" font-weight="bold" fill="#1a1a1a" stroke="#1a1a1a" stroke-width="0.36" transform="translate(453.00 243.20) rotate(-47)">Oral hairy leukoplakia (n = 1)</text>
<text x="0.00" y="0.00" font-size="4.72" text-anchor="end" font-weight="bold" fill="#1a1a1a" stroke="#1a1a1a" stroke-width="0.36" transform="translate(468.00 243.20) rotate(-47)">Partially treated EBV(+) disease (n = 4)</text>
<text x="0.00" y="0.00" font-size="4.72" text-anchor="end" font-weight="bold" fill="#1a1a1a" stroke="#1a1a1a" stroke-width="0.36" transform="translate(482.90 243.20) rotate(-47)">EBV(+) disease in remission (n = 20)</text>
<text x="0.00" y="0.00" font-size="4.72" text-anchor="end" font-weight="bold" fill="#1a1a1a" stroke="#1a1a1a" stroke-width="0.36" transform="translate(497.70 243.20) rotate(-47)">EBV(+) CNS disease (n = 6)</text>
<text x="0.00" y="0.00" font-size="4.72" text-anchor="end" font-weight="bold" fill="#1a1a1a" stroke="#1a1a1a" stroke-width="0.36" transform="translate(513.00 243.20) rotate(-47)">No EBV-associated disease (n = 1395)</text>
<text x="0.00" y="0.00" font-size="6.0" text-anchor="middle" font-weight="bold" fill="#1a1a1a" stroke="#1a1a1a" stroke-width="0.36" transform="translate(299.70 119.40) rotate(-90)">EBV DNA copies per 100,000 lymphocytes</text>
<text x="270.50" y="9.00" font-size="12" text-anchor="start" font-weight="bold" fill="#000" stroke="#000" stroke-width="0.4">B</text>
<line x1="58.00" y1="343.00" x2="58.00" y2="581.10" stroke="#111" stroke-width="1.5"/>
<line x1="55.70" y1="343.75" x2="58.00" y2="343.75" stroke="#333" stroke-width="1.0"/>
<text x="54.60" y="345.77" font-size="5.6" text-anchor="end" font-weight="bold" fill="#1a1a1a" stroke="#1a1a1a" stroke-width="0.36">100,000,000</text>
<line x1="55.70" y1="373.21" x2="58.00" y2="373.21" stroke="#333" stroke-width="1.0"/>
<text x="54.60" y="375.23" font-size="5.6" text-anchor="end" font-weight="bold" fill="#1a1a1a" stroke="#1a1a1a" stroke-width="0.36">10,000,000</text>
<line x1="55.70" y1="402.67" x2="58.00" y2="402.67" stroke="#333" stroke-width="1.0"/>
<text x="54.60" y="404.69" font-size="5.6" text-anchor="end" font-weight="bold" fill="#1a1a1a" stroke="#1a1a1a" stroke-width="0.36">1,000,000</text>
<line x1="55.70" y1="432.13" x2="58.00" y2="432.13" stroke="#333" stroke-width="1.0"/>
<text x="54.60" y="434.15" font-size="5.6" text-anchor="end" font-weight="bold" fill="#1a1a1a" stroke="#1a1a1a" stroke-width="0.36">100,000</text>
<line x1="55.70" y1="461.59" x2="58.00" y2="461.59" stroke="#333" stroke-width="1.0"/>
<text x="54.60" y="463.61" font-size="5.6" text-anchor="end" font-weight="bold" fill="#1a1a1a" stroke="#1a1a1a" stroke-width="0.36">10,000</text>
<line x1="55.70" y1="491.05" x2="58.00" y2="491.05" stroke="#333" stroke-width="1.0"/>
<text x="54.60" y="493.07" font-size="5.6" text-anchor="end" font-weight="bold" fill="#1a1a1a" stroke="#1a1a1a" stroke-width="0.36">1,000</text>
<line x1="55.70" y1="520.51" x2="58.00" y2="520.51" stroke="#333" stroke-width="1.0"/>
<text x="54.60" y="522.53" font-size="5.6" text-anchor="end" font-weight="bold" fill="#1a1a1a" stroke="#1a1a1a" stroke-width="0.36">100</text>
<line x1="55.70" y1="549.97" x2="58.00" y2="549.97" stroke="#333" stroke-width="1.0"/>
<text x="54.60" y="551.99" font-size="5.6" text-anchor="end" font-weight="bold" fill="#1a1a1a" stroke="#1a1a1a" stroke-width="0.36">10</text>
<line x1="55.70" y1="580.50" x2="58.00" y2="580.50" stroke="#333" stroke-width="1.0"/>
<text x="54.20" y="582.43" font-size="5.35" text-anchor="end" font-weight="bold" fill="#1a1a1a" stroke="#1a1a1a" stroke-width="0.36">Undetectable</text>
<line x1="56.10" y1="364.34" x2="58.00" y2="364.34" stroke="#222" stroke-width="0.85"/>
<line x1="56.10" y1="359.15" x2="58.00" y2="359.15" stroke="#222" stroke-width="0.85"/>
<line x1="56.10" y1="355.47" x2="58.00" y2="355.47" stroke="#222" stroke-width="0.85"/>
<line x1="56.10" y1="352.62" x2="58.00" y2="352.62" stroke="#222" stroke-width="0.85"/>
<line x1="56.10" y1="350.29" x2="58.00" y2="350.29" stroke="#222" stroke-width="0.85"/>
<line x1="56.10" y1="348.31" x2="58.00" y2="348.31" stroke="#222" stroke-width="0.85"/>
<line x1="56.10" y1="346.60" x2="58.00" y2="346.60" stroke="#222" stroke-width="0.85"/>
<line x1="56.10" y1="345.10" x2="58.00" y2="345.10" stroke="#222" stroke-width="0.85"/>
<line x1="56.10" y1="393.80" x2="58.00" y2="393.80" stroke="#222" stroke-width="0.85"/>
<line x1="56.10" y1="388.61" x2="58.00" y2="388.61" stroke="#222" stroke-width="0.85"/>
<line x1="56.10" y1="384.93" x2="58.00" y2="384.93" stroke="#222" stroke-width="0.85"/>
<line x1="56.10" y1="382.08" x2="58.00" y2="382.08" stroke="#222" stroke-width="0.85"/>
<line x1="56.10" y1="379.75" x2="58.00" y2="379.75" stroke="#222" stroke-width="0.85"/>
<line x1="56.10" y1="377.77" x2="58.00" y2="377.77" stroke="#222" stroke-width="0.85"/>
<line x1="56.10" y1="376.06" x2="58.00" y2="376.06" stroke="#222" stroke-width="0.85"/>
<line x1="56.10" y1="374.56" x2="58.00" y2="374.56" stroke="#222" stroke-width="0.85"/>
<line x1="56.10" y1="423.26" x2="58.00" y2="423.26" stroke="#222" stroke-width="0.85"/>
<line x1="56.10" y1="418.07" x2="58.00" y2="418.07" stroke="#222" stroke-width="0.85"/>
<line x1="56.10" y1="414.39" x2="58.00" y2="414.39" stroke="#222" stroke-width="0.85"/>
<line x1="56.10" y1="411.54" x2="58.00" y2="411.54" stroke="#222" stroke-width="0.85"/>
<line x1="56.10" y1="409.21" x2="58.00" y2="409.21" stroke="#222" stroke-width="0.85"/>
<line x1="56.10" y1="407.23" x2="58.00" y2="407.23" stroke="#222" stroke-width="0.85"/>
<line x1="56.10" y1="405.52" x2="58.00" y2="405.52" stroke="#222" stroke-width="0.85"/>
<line x1="56.10" y1="404.02" x2="58.00" y2="404.02" stroke="#222" stroke-width="0.85"/>
<line x1="56.10" y1="452.72" x2="58.00" y2="452.72" stroke="#222" stroke-width="0.85"/>
<line x1="56.10" y1="447.53" x2="58.00" y2="447.53" stroke="#222" stroke-width="0.85"/>
<line x1="56.10" y1="443.85" x2="58.00" y2="443.85" stroke="#222" stroke-width="0.85"/>
<line x1="56.10" y1="441.00" x2="58.00" y2="441.00" stroke="#222" stroke-width="0.85"/>
<line x1="56.10" y1="438.67" x2="58.00" y2="438.67" stroke="#222" stroke-width="0.85"/>
<line x1="56.10" y1="436.69" x2="58.00" y2="436.69" stroke="#222" stroke-width="0.85"/>
<line x1="56.10" y1="434.98" x2="58.00" y2="434.98" stroke="#222" stroke-width="0.85"/>
<line x1="56.10" y1="433.48" x2="58.00" y2="433.48" stroke="#222" stroke-width="0.85"/>
<line x1="56.10" y1="482.18" x2="58.00" y2="482.18" stroke="#222" stroke-width="0.85"/>
<line x1="56.10" y1="476.99" x2="58.00" y2="476.99" stroke="#222" stroke-width="0.85"/>
<line x1="56.10" y1="473.31" x2="58.00" y2="473.31" stroke="#222" stroke-width="0.85"/>
<line x1="56.10" y1="470.46" x2="58.00" y2="470.46" stroke="#222" stroke-width="0.85"/>
<line x1="56.10" y1="468.13" x2="58.00" y2="468.13" stroke="#222" stroke-width="0.85"/>
<line x1="56.10" y1="466.15" x2="58.00" y2="466.15" stroke="#222" stroke-width="0.85"/>
<line x1="56.10" y1="464.44" x2="58.00" y2="464.44" stroke="#222" stroke-width="0.85"/>
<line x1="56.10" y1="462.94" x2="58.00" y2="462.94" stroke="#222" stroke-width="0.85"/>
<line x1="56.10" y1="511.64" x2="58.00" y2="511.64" stroke="#222" stroke-width="0.85"/>
<line x1="56.10" y1="506.45" x2="58.00" y2="506.45" stroke="#222" stroke-width="0.85"/>
<line x1="56.10" y1="502.77" x2="58.00" y2="502.77" stroke="#222" stroke-width="0.85"/>
<line x1="56.10" y1="499.92" x2="58.00" y2="499.92" stroke="#222" stroke-width="0.85"/>
<line x1="56.10" y1="497.59" x2="58.00" y2="497.59" stroke="#222" stroke-width="0.85"/>
<line x1="56.10" y1="495.61" x2="58.00" y2="495.61" stroke="#222" stroke-width="0.85"/>
<line x1="56.10" y1="493.90" x2="58.00" y2="493.90" stroke="#222" stroke-width="0.85"/>
<line x1="56.10" y1="492.40" x2="58.00" y2="492.40" stroke="#222" stroke-width="0.85"/>
<line x1="56.10" y1="541.10" x2="58.00" y2="541.10" stroke="#222" stroke-width="0.85"/>
<line x1="56.10" y1="535.91" x2="58.00" y2="535.91" stroke="#222" stroke-width="0.85"/>
<line x1="56.10" y1="532.23" x2="58.00" y2="532.23" stroke="#222" stroke-width="0.85"/>
<line x1="56.10" y1="529.38" x2="58.00" y2="529.38" stroke="#222" stroke-width="0.85"/>
<line x1="56.10" y1="527.05" x2="58.00" y2="527.05" stroke="#222" stroke-width="0.85"/>
<line x1="56.10" y1="525.07" x2="58.00" y2="525.07" stroke="#222" stroke-width="0.85"/>
<line x1="56.10" y1="523.36" x2="58.00" y2="523.36" stroke="#222" stroke-width="0.85"/>
<line x1="56.10" y1="521.86" x2="58.00" y2="521.86" stroke="#222" stroke-width="0.85"/>
<line x1="56.10" y1="571.31" x2="58.00" y2="571.31" stroke="#222" stroke-width="0.85"/>
<line x1="56.10" y1="565.93" x2="58.00" y2="565.93" stroke="#222" stroke-width="0.85"/>
<line x1="56.10" y1="562.12" x2="58.00" y2="562.12" stroke="#222" stroke-width="0.85"/>
<line x1="56.10" y1="559.16" x2="58.00" y2="559.16" stroke="#222" stroke-width="0.85"/>
<line x1="56.10" y1="556.74" x2="58.00" y2="556.74" stroke="#222" stroke-width="0.85"/>
<line x1="56.10" y1="554.70" x2="58.00" y2="554.70" stroke="#222" stroke-width="0.85"/>
<line x1="56.10" y1="552.93" x2="58.00" y2="552.93" stroke="#222" stroke-width="0.85"/>
<line x1="56.10" y1="551.37" x2="58.00" y2="551.37" stroke="#222" stroke-width="0.85"/>
<line x1="57.40" y1="580.50" x2="249.00" y2="580.50" stroke="#333" stroke-width="1.3"/>
<line x1="68.40" y1="580.50" x2="68.40" y2="582.70" stroke="#444" stroke-width="0.8"/>
<line x1="89.70" y1="580.50" x2="89.70" y2="582.70" stroke="#444" stroke-width="0.8"/>
<line x1="110.90" y1="580.50" x2="110.90" y2="582.70" stroke="#444" stroke-width="0.8"/>
<line x1="132.40" y1="580.50" x2="132.40" y2="582.70" stroke="#444" stroke-width="0.8"/>
<line x1="153.60" y1="580.50" x2="153.60" y2="582.70" stroke="#444" stroke-width="0.8"/>
<line x1="174.90" y1="580.50" x2="174.90" y2="582.70" stroke="#444" stroke-width="0.8"/>
<line x1="196.10" y1="580.50" x2="196.10" y2="582.70" stroke="#444" stroke-width="0.8"/>
<line x1="217.30" y1="580.50" x2="217.30" y2="582.70" stroke="#444" stroke-width="0.8"/>
<line x1="238.30" y1="580.50" x2="238.30" y2="582.70" stroke="#444" stroke-width="0.8"/>
<line x1="68.40" y1="403.00" x2="68.40" y2="431.30" stroke="#333" stroke-width="1.0"/>
<line x1="63.60" y1="403.00" x2="73.20" y2="403.00" stroke="#333" stroke-width="1.0"/>
<line x1="68.40" y1="481.80" x2="68.40" y2="513.70" stroke="#333" stroke-width="1.0"/>
<line x1="63.60" y1="513.70" x2="73.20" y2="513.70" stroke="#333" stroke-width="1.0"/>
<rect x="58.65" y="431.30" width="19.50" height="50.50" fill="none" stroke="#555" stroke-width="1.0"/>
<line x1="58.65" y1="460.50" x2="78.15" y2="460.50" stroke="#555" stroke-width="1.0"/>
<line x1="89.70" y1="495.80" x2="89.70" y2="502.80" stroke="#333" stroke-width="1.0"/>
<line x1="84.70" y1="495.80" x2="94.70" y2="495.80" stroke="#333" stroke-width="1.0"/>
<rect x="79.50" y="502.80" width="20.40" height="77.70" fill="none" stroke="#555" stroke-width="1.0"/>
<line x1="132.40" y1="347.50" x2="132.40" y2="370.70" stroke="#333" stroke-width="1.0"/>
<line x1="127.40" y1="347.50" x2="137.40" y2="347.50" stroke="#333" stroke-width="1.0"/>
<line x1="132.40" y1="450.60" x2="132.40" y2="467.60" stroke="#333" stroke-width="1.0"/>
<line x1="127.40" y1="467.60" x2="137.40" y2="467.60" stroke="#333" stroke-width="1.0"/>
<rect x="122.50" y="370.70" width="19.80" height="79.90" fill="none" stroke="#555" stroke-width="1.0"/>
<line x1="122.50" y1="418.20" x2="142.30" y2="418.20" stroke="#555" stroke-width="1.0"/>
<line x1="153.60" y1="491.20" x2="153.60" y2="580.50" stroke="#555" stroke-width="1.0"/>
<line x1="148.60" y1="491.20" x2="158.60" y2="491.20" stroke="#555" stroke-width="1.0"/>
<line x1="196.10" y1="382.80" x2="196.10" y2="420.70" stroke="#333" stroke-width="1.0"/>
<line x1="191.20" y1="382.80" x2="201.00" y2="382.80" stroke="#333" stroke-width="1.0"/>
<line x1="196.10" y1="476.90" x2="196.10" y2="503.60" stroke="#333" stroke-width="1.0"/>
<line x1="191.20" y1="503.60" x2="201.00" y2="503.60" stroke="#333" stroke-width="1.0"/>
<rect x="186.25" y="420.70" width="19.70" height="56.20" fill="none" stroke="#555" stroke-width="1.0"/>
<line x1="186.25" y1="446.00" x2="205.95" y2="446.00" stroke="#555" stroke-width="1.0"/>
<circle cx="68.40" cy="406.50" r="0.7" fill="#1a1a1a"/>
<circle cx="68.40" cy="410.30" r="0.7" fill="#1a1a1a"/>
<circle cx="68.40" cy="417.90" r="0.7" fill="#1a1a1a"/>
<circle cx="68.40" cy="431.30" r="0.7" fill="#1a1a1a"/>
<circle cx="68.40" cy="436.00" r="0.7" fill="#1a1a1a"/>
<circle cx="68.40" cy="440.80" r="0.7" fill="#1a1a1a"/>
<circle cx="68.40" cy="445.60" r="0.7" fill="#1a1a1a"/>
<circle cx="68.40" cy="450.30" r="0.7" fill="#1a1a1a"/>
<circle cx="68.40" cy="455.10" r="0.7" fill="#1a1a1a"/>
<circle cx="68.40" cy="460.80" r="0.7" fill="#1a1a1a"/>
<circle cx="68.40" cy="465.60" r="0.7" fill="#1a1a1a"/>
<circle cx="68.40" cy="471.30" r="0.7" fill="#1a1a1a"/>
<circle cx="68.40" cy="477.10" r="0.7" fill="#1a1a1a"/>
<circle cx="68.40" cy="483.70" r="0.7" fill="#1a1a1a"/>
<circle cx="68.40" cy="488.50" r="0.7" fill="#1a1a1a"/>
<circle cx="68.40" cy="496.10" r="0.7" fill="#1a1a1a"/>
<circle cx="68.40" cy="501.90" r="0.7" fill="#1a1a1a"/>
<circle cx="89.70" cy="500.50" r="0.8" fill="#1a1a1a"/>
<circle cx="132.40" cy="400.40" r="0.8" fill="#1a1a1a"/>
<circle cx="132.40" cy="420.20" r="0.8" fill="#1a1a1a"/>
<circle cx="196.10" cy="395.60" r="0.7" fill="#1a1a1a"/>
<circle cx="196.10" cy="405.90" r="0.7" fill="#1a1a1a"/>
<circle cx="196.10" cy="420.30" r="0.7" fill="#1a1a1a"/>
<circle cx="196.10" cy="424.40" r="0.7" fill="#1a1a1a"/>
<circle cx="196.10" cy="428.50" r="0.7" fill="#1a1a1a"/>
<circle cx="196.10" cy="432.60" r="0.7" fill="#1a1a1a"/>
<circle cx="196.10" cy="436.70" r="0.7" fill="#1a1a1a"/>
<circle cx="196.10" cy="440.80" r="0.7" fill="#1a1a1a"/>
<circle cx="196.10" cy="448.00" r="0.7" fill="#1a1a1a"/>
<circle cx="196.10" cy="452.20" r="0.7" fill="#1a1a1a"/>
<circle cx="196.10" cy="456.30" r="0.7" fill="#1a1a1a"/>
<circle cx="196.10" cy="459.40" r="0.7" fill="#1a1a1a"/>
<circle cx="196.10" cy="463.50" r="0.7" fill="#1a1a1a"/>
<circle cx="196.10" cy="467.60" r="0.7" fill="#1a1a1a"/>
<circle cx="196.10" cy="471.70" r="0.7" fill="#1a1a1a"/>
<circle cx="196.10" cy="475.80" r="0.7" fill="#1a1a1a"/>
<circle cx="196.10" cy="479.90" r="0.7" fill="#1a1a1a"/>
<circle cx="196.10" cy="484.10" r="0.7" fill="#1a1a1a"/>
<circle cx="196.10" cy="487.10" r="0.7" fill="#1a1a1a"/>
<line x1="63.40" y1="580.50" x2="73.40" y2="580.50" stroke="#444" stroke-width="1.2"/>
<line x1="84.70" y1="580.50" x2="94.70" y2="580.50" stroke="#444" stroke-width="1.2"/>
<line x1="105.90" y1="580.50" x2="115.90" y2="580.50" stroke="#444" stroke-width="1.2"/>
<line x1="127.40" y1="580.50" x2="137.40" y2="580.50" stroke="#444" stroke-width="1.2"/>
<line x1="148.60" y1="580.50" x2="158.60" y2="580.50" stroke="#444" stroke-width="1.2"/>
<line x1="169.90" y1="580.50" x2="179.90" y2="580.50" stroke="#444" stroke-width="1.2"/>
<line x1="191.10" y1="580.50" x2="201.10" y2="580.50" stroke="#444" stroke-width="1.2"/>
<line x1="212.30" y1="580.50" x2="222.30" y2="580.50" stroke="#444" stroke-width="1.2"/>
<line x1="233.30" y1="580.50" x2="243.30" y2="580.50" stroke="#444" stroke-width="1.2"/>
<text x="0.00" y="0.00" font-size="5.7" text-anchor="end" font-weight="bold" fill="#1a1a1a" stroke="#1a1a1a" stroke-width="0.45" letter-spacing="-0.05" transform="translate(69.90 586.70) rotate(-45)">EBV(+) PTLD, untreated (n = 20)</text>
<text x="0.00" y="0.00" font-size="5.7" text-anchor="end" font-weight="bold" fill="#1a1a1a" stroke="#1a1a1a" stroke-width="0.45" letter-spacing="-0.05" transform="translate(91.20 586.70) rotate(-45)">EBV(+) PTLD, in remission (n = 11)</text>
<text x="0.00" y="0.00" font-size="5.7" text-anchor="end" font-weight="bold" fill="#1a1a1a" stroke="#1a1a1a" stroke-width="0.45" letter-spacing="-0.05" transform="translate(112.40 586.70) rotate(-45)">EBV(-) PTLD, in untreated (n = 4)</text>
<text x="0.00" y="0.00" font-size="5.7" text-anchor="end" font-weight="bold" fill="#1a1a1a" stroke="#1a1a1a" stroke-width="0.45" letter-spacing="-0.05" transform="translate(133.90 586.70) rotate(-45)">EBV(+) HLH, untreated (n = 7)</text>
<text x="0.00" y="0.00" font-size="5.7" text-anchor="end" font-weight="bold" fill="#1a1a1a" stroke="#1a1a1a" stroke-width="0.45" letter-spacing="-0.05" transform="translate(155.10 586.70) rotate(-45)">EBV(+) HLH, in remission (n = 3)</text>
<text x="0.00" y="0.00" font-size="5.7" text-anchor="end" font-weight="bold" fill="#1a1a1a" stroke="#1a1a1a" stroke-width="0.45" letter-spacing="-0.05" transform="translate(176.40 586.70) rotate(-45)">EBV(-) HLH, untreated (n = 4)</text>
<text x="0.00" y="0.00" font-size="5.7" text-anchor="end" font-weight="bold" fill="#1a1a1a" stroke="#1a1a1a" stroke-width="0.45" letter-spacing="-0.05" transform="translate(197.60 586.70) rotate(-45)">EBV(+) lymphoma, untreated (n = 37)</text>
<text x="0.00" y="0.00" font-size="5.7" text-anchor="end" font-weight="bold" fill="#1a1a1a" stroke="#1a1a1a" stroke-width="0.45" letter-spacing="-0.05" transform="translate(218.80 586.70) rotate(-45)">EBV(+) lymphoma, in remission (n = 8)</text>
<text x="0.00" y="0.00" font-size="5.7" text-anchor="end" font-weight="bold" fill="#1a1a1a" stroke="#1a1a1a" stroke-width="0.45" letter-spacing="-0.05" transform="translate(239.80 586.70) rotate(-45)">EBV(+) lymphoma, untreated (n = 25)</text>
<text x="0.00" y="0.00" font-size="6.1" text-anchor="middle" font-weight="bold" fill="#1a1a1a" stroke="#1a1a1a" stroke-width="0.36" transform="translate(27.80 462.30) rotate(-90)">EBV DNA copies per mL plasma</text>
<text x="0.00" y="352.40" font-size="12" text-anchor="start" font-weight="bold" fill="#000" stroke="#000" stroke-width="0.4">C</text>
<line x1="68.20" y1="387.10" x2="111.30" y2="387.10" stroke="#444" stroke-width="1.0"/>
<line x1="68.20" y1="385.70" x2="68.20" y2="388.50" stroke="#444" stroke-width="0.9"/>
<line x1="111.30" y1="385.70" x2="111.30" y2="388.50" stroke="#444" stroke-width="0.9"/>
<text x="87.20" y="384.60" font-size="5.3" text-anchor="middle" font-weight="bold" fill="#222" stroke="#222" stroke-width="0.25"><tspan font-style="italic">P</tspan> &lt; .01</text>
<line x1="68.20" y1="398.10" x2="90.30" y2="398.10" stroke="#444" stroke-width="1.0"/>
<line x1="68.20" y1="396.70" x2="68.20" y2="399.50" stroke="#444" stroke-width="0.9"/>
<line x1="90.30" y1="396.70" x2="90.30" y2="399.50" stroke="#444" stroke-width="0.9"/>
<text x="77.20" y="395.20" font-size="5.3" text-anchor="middle" font-weight="bold" fill="#222" stroke="#222" stroke-width="0.25"><tspan font-style="italic">P</tspan> &lt; .0001</text>
<line x1="132.20" y1="341.50" x2="173.50" y2="341.50" stroke="#444" stroke-width="1.0"/>
<line x1="132.20" y1="340.10" x2="132.20" y2="342.90" stroke="#444" stroke-width="0.9"/>
<line x1="173.50" y1="340.10" x2="173.50" y2="342.90" stroke="#444" stroke-width="0.9"/>
<text x="150.60" y="339.20" font-size="5.3" text-anchor="middle" font-weight="bold" fill="#222" stroke="#222" stroke-width="0.25"><tspan font-style="italic">P</tspan> &lt; .01</text>
<line x1="195.60" y1="365.10" x2="239.20" y2="365.10" stroke="#444" stroke-width="1.0"/>
<line x1="195.60" y1="363.70" x2="195.60" y2="366.50" stroke="#444" stroke-width="0.9"/>
<line x1="239.20" y1="363.70" x2="239.20" y2="366.50" stroke="#444" stroke-width="0.9"/>
<text x="214.30" y="362.30" font-size="5.3" text-anchor="middle" font-weight="bold" fill="#222" stroke="#222" stroke-width="0.25"><tspan font-style="italic">P</tspan> &lt; .0001</text>
<line x1="195.60" y1="376.20" x2="217.80" y2="376.20" stroke="#444" stroke-width="1.0"/>
<line x1="195.60" y1="374.80" x2="195.60" y2="377.60" stroke="#444" stroke-width="0.9"/>
<line x1="217.80" y1="374.80" x2="217.80" y2="377.60" stroke="#444" stroke-width="0.9"/>
<text x="205.00" y="373.40" font-size="5.3" text-anchor="middle" font-weight="bold" fill="#222" stroke="#222" stroke-width="0.25"><tspan font-style="italic">P</tspan> &lt; .0001</text>
<line x1="321.30" y1="344.00" x2="321.30" y2="581.60" stroke="#111" stroke-width="1.5"/>
<line x1="319.00" y1="345.00" x2="321.30" y2="345.00" stroke="#333" stroke-width="1.0"/>
<text x="318.40" y="346.98" font-size="5.5" text-anchor="end" font-weight="bold" fill="#1a1a1a" stroke="#1a1a1a" stroke-width="0.36">100,000,000</text>
<line x1="319.00" y1="374.39" x2="321.30" y2="374.39" stroke="#333" stroke-width="1.0"/>
<text x="318.40" y="376.37" font-size="5.5" text-anchor="end" font-weight="bold" fill="#1a1a1a" stroke="#1a1a1a" stroke-width="0.36">10,000,000</text>
<line x1="319.00" y1="403.78" x2="321.30" y2="403.78" stroke="#333" stroke-width="1.0"/>
<text x="318.40" y="405.76" font-size="5.5" text-anchor="end" font-weight="bold" fill="#1a1a1a" stroke="#1a1a1a" stroke-width="0.36">1,000,000</text>
<line x1="319.00" y1="433.17" x2="321.30" y2="433.17" stroke="#333" stroke-width="1.0"/>
<text x="318.40" y="435.15" font-size="5.5" text-anchor="end" font-weight="bold" fill="#1a1a1a" stroke="#1a1a1a" stroke-width="0.36">100,000</text>
<line x1="319.00" y1="462.56" x2="321.30" y2="462.56" stroke="#333" stroke-width="1.0"/>
<text x="318.40" y="464.54" font-size="5.5" text-anchor="end" font-weight="bold" fill="#1a1a1a" stroke="#1a1a1a" stroke-width="0.36">10,000</text>
<line x1="319.00" y1="491.95" x2="321.30" y2="491.95" stroke="#333" stroke-width="1.0"/>
<text x="318.40" y="493.93" font-size="5.5" text-anchor="end" font-weight="bold" fill="#1a1a1a" stroke="#1a1a1a" stroke-width="0.36">1,000</text>
<line x1="319.00" y1="521.34" x2="321.30" y2="521.34" stroke="#333" stroke-width="1.0"/>
<text x="318.40" y="523.32" font-size="5.5" text-anchor="end" font-weight="bold" fill="#1a1a1a" stroke="#1a1a1a" stroke-width="0.36">100</text>
<line x1="319.00" y1="550.73" x2="321.30" y2="550.73" stroke="#333" stroke-width="1.0"/>
<text x="318.40" y="552.71" font-size="5.5" text-anchor="end" font-weight="bold" fill="#1a1a1a" stroke="#1a1a1a" stroke-width="0.36">10</text>
<line x1="319.00" y1="581.00" x2="321.30" y2="581.00" stroke="#333" stroke-width="1.0"/>
<text x="318.90" y="582.14" font-size="5.4" text-anchor="end" font-weight="bold" fill="#1a1a1a" stroke="#1a1a1a" stroke-width="0.36">Undetectable</text>
<line x1="319.40" y1="365.54" x2="321.30" y2="365.54" stroke="#222" stroke-width="0.85"/>
<line x1="319.40" y1="360.37" x2="321.30" y2="360.37" stroke="#222" stroke-width="0.85"/>
<line x1="319.40" y1="356.70" x2="321.30" y2="356.70" stroke="#222" stroke-width="0.85"/>
<line x1="319.40" y1="353.85" x2="321.30" y2="353.85" stroke="#222" stroke-width="0.85"/>
<line x1="319.40" y1="351.52" x2="321.30" y2="351.52" stroke="#222" stroke-width="0.85"/>
<line x1="319.40" y1="349.55" x2="321.30" y2="349.55" stroke="#222" stroke-width="0.85"/>
<line x1="319.40" y1="347.85" x2="321.30" y2="347.85" stroke="#222" stroke-width="0.85"/>
<line x1="319.40" y1="346.34" x2="321.30" y2="346.34" stroke="#222" stroke-width="0.85"/>
<line x1="319.40" y1="394.93" x2="321.30" y2="394.93" stroke="#222" stroke-width="0.85"/>
<line x1="319.40" y1="389.76" x2="321.30" y2="389.76" stroke="#222" stroke-width="0.85"/>
<line x1="319.40" y1="386.09" x2="321.30" y2="386.09" stroke="#222" stroke-width="0.85"/>
<line x1="319.40" y1="383.24" x2="321.30" y2="383.24" stroke="#222" stroke-width="0.85"/>
<line x1="319.40" y1="380.91" x2="321.30" y2="380.91" stroke="#222" stroke-width="0.85"/>
<line x1="319.40" y1="378.94" x2="321.30" y2="378.94" stroke="#222" stroke-width="0.85"/>
<line x1="319.40" y1="377.24" x2="321.30" y2="377.24" stroke="#222" stroke-width="0.85"/>
<line x1="319.40" y1="375.73" x2="321.30" y2="375.73" stroke="#222" stroke-width="0.85"/>
<line x1="319.40" y1="424.32" x2="321.30" y2="424.32" stroke="#222" stroke-width="0.85"/>
<line x1="319.40" y1="419.15" x2="321.30" y2="419.15" stroke="#222" stroke-width="0.85"/>
<line x1="319.40" y1="415.48" x2="321.30" y2="415.48" stroke="#222" stroke-width="0.85"/>
<line x1="319.40" y1="412.63" x2="321.30" y2="412.63" stroke="#222" stroke-width="0.85"/>
<line x1="319.40" y1="410.30" x2="321.30" y2="410.30" stroke="#222" stroke-width="0.85"/>
<line x1="319.40" y1="408.33" x2="321.30" y2="408.33" stroke="#222" stroke-width="0.85"/>
<line x1="319.40" y1="406.63" x2="321.30" y2="406.63" stroke="#222" stroke-width="0.85"/>
<line x1="319.40" y1="405.12" x2="321.30" y2="405.12" stroke="#222" stroke-width="0.85"/>
<line x1="319.40" y1="453.71" x2="321.30" y2="453.71" stroke="#222" stroke-width="0.85"/>
<line x1="319.40" y1="448.54" x2="321.30" y2="448.54" stroke="#222" stroke-width="0.85"/>
<line x1="319.40" y1="444.87" x2="321.30" y2="444.87" stroke="#222" stroke-width="0.85"/>
<line x1="319.40" y1="442.02" x2="321.30" y2="442.02" stroke="#222" stroke-width="0.85"/>
<line x1="319.40" y1="439.69" x2="321.30" y2="439.69" stroke="#222" stroke-width="0.85"/>
<line x1="319.40" y1="437.72" x2="321.30" y2="437.72" stroke="#222" stroke-width="0.85"/>
<line x1="319.40" y1="436.02" x2="321.30" y2="436.02" stroke="#222" stroke-width="0.85"/>
<line x1="319.40" y1="434.51" x2="321.30" y2="434.51" stroke="#222" stroke-width="0.85"/>
<line x1="319.40" y1="483.10" x2="321.30" y2="483.10" stroke="#222" stroke-width="0.85"/>
<line x1="319.40" y1="477.93" x2="321.30" y2="477.93" stroke="#222" stroke-width="0.85"/>
<line x1="319.40" y1="474.26" x2="321.30" y2="474.26" stroke="#222" stroke-width="0.85"/>
<line x1="319.40" y1="471.41" x2="321.30" y2="471.41" stroke="#222" stroke-width="0.85"/>
<line x1="319.40" y1="469.08" x2="321.30" y2="469.08" stroke="#222" stroke-width="0.85"/>
<line x1="319.40" y1="467.11" x2="321.30" y2="467.11" stroke="#222" stroke-width="0.85"/>
<line x1="319.40" y1="465.41" x2="321.30" y2="465.41" stroke="#222" stroke-width="0.85"/>
<line x1="319.40" y1="463.90" x2="321.30" y2="463.90" stroke="#222" stroke-width="0.85"/>
<line x1="319.40" y1="512.49" x2="321.30" y2="512.49" stroke="#222" stroke-width="0.85"/>
<line x1="319.40" y1="507.32" x2="321.30" y2="507.32" stroke="#222" stroke-width="0.85"/>
<line x1="319.40" y1="503.65" x2="321.30" y2="503.65" stroke="#222" stroke-width="0.85"/>
<line x1="319.40" y1="500.80" x2="321.30" y2="500.80" stroke="#222" stroke-width="0.85"/>
<line x1="319.40" y1="498.47" x2="321.30" y2="498.47" stroke="#222" stroke-width="0.85"/>
<line x1="319.40" y1="496.50" x2="321.30" y2="496.50" stroke="#222" stroke-width="0.85"/>
<line x1="319.40" y1="494.80" x2="321.30" y2="494.80" stroke="#222" stroke-width="0.85"/>
<line x1="319.40" y1="493.29" x2="321.30" y2="493.29" stroke="#222" stroke-width="0.85"/>
<line x1="319.40" y1="541.88" x2="321.30" y2="541.88" stroke="#222" stroke-width="0.85"/>
<line x1="319.40" y1="536.71" x2="321.30" y2="536.71" stroke="#222" stroke-width="0.85"/>
<line x1="319.40" y1="533.04" x2="321.30" y2="533.04" stroke="#222" stroke-width="0.85"/>
<line x1="319.40" y1="530.19" x2="321.30" y2="530.19" stroke="#222" stroke-width="0.85"/>
<line x1="319.40" y1="527.86" x2="321.30" y2="527.86" stroke="#222" stroke-width="0.85"/>
<line x1="319.40" y1="525.89" x2="321.30" y2="525.89" stroke="#222" stroke-width="0.85"/>
<line x1="319.40" y1="524.19" x2="321.30" y2="524.19" stroke="#222" stroke-width="0.85"/>
<line x1="319.40" y1="522.68" x2="321.30" y2="522.68" stroke="#222" stroke-width="0.85"/>
<line x1="319.40" y1="571.89" x2="321.30" y2="571.89" stroke="#222" stroke-width="0.85"/>
<line x1="319.40" y1="566.56" x2="321.30" y2="566.56" stroke="#222" stroke-width="0.85"/>
<line x1="319.40" y1="562.78" x2="321.30" y2="562.78" stroke="#222" stroke-width="0.85"/>
<line x1="319.40" y1="559.84" x2="321.30" y2="559.84" stroke="#222" stroke-width="0.85"/>
<line x1="319.40" y1="557.45" x2="321.30" y2="557.45" stroke="#222" stroke-width="0.85"/>
<line x1="319.40" y1="555.42" x2="321.30" y2="555.42" stroke="#222" stroke-width="0.85"/>
<line x1="319.40" y1="553.66" x2="321.30" y2="553.66" stroke="#222" stroke-width="0.85"/>
<line x1="319.40" y1="552.12" x2="321.30" y2="552.12" stroke="#222" stroke-width="0.85"/>
<line x1="320.70" y1="581.00" x2="517.50" y2="581.00" stroke="#333" stroke-width="1.3"/>
<line x1="333.20" y1="581.00" x2="333.20" y2="583.20" stroke="#444" stroke-width="0.8"/>
<line x1="355.00" y1="581.00" x2="355.00" y2="583.20" stroke="#444" stroke-width="0.8"/>
<line x1="376.60" y1="581.00" x2="376.60" y2="583.20" stroke="#444" stroke-width="0.8"/>
<line x1="398.60" y1="581.00" x2="398.60" y2="583.20" stroke="#444" stroke-width="0.8"/>
<line x1="420.00" y1="581.00" x2="420.00" y2="583.20" stroke="#444" stroke-width="0.8"/>
<line x1="441.80" y1="581.00" x2="441.80" y2="583.20" stroke="#444" stroke-width="0.8"/>
<line x1="463.90" y1="581.00" x2="463.90" y2="583.20" stroke="#444" stroke-width="0.8"/>
<line x1="485.70" y1="581.00" x2="485.70" y2="583.20" stroke="#444" stroke-width="0.8"/>
<line x1="507.60" y1="581.00" x2="507.60" y2="583.20" stroke="#444" stroke-width="0.8"/>
<line x1="333.20" y1="398.70" x2="333.20" y2="448.90" stroke="#333" stroke-width="1.0"/>
<line x1="328.40" y1="398.70" x2="338.00" y2="398.70" stroke="#333" stroke-width="1.0"/>
<line x1="333.20" y1="487.50" x2="333.20" y2="581.00" stroke="#333" stroke-width="1.0"/>
<line x1="328.40" y1="581.00" x2="338.00" y2="581.00" stroke="#333" stroke-width="1.0"/>
<rect x="323.20" y="448.90" width="20.00" height="38.60" fill="none" stroke="#555" stroke-width="1.0"/>
<line x1="323.20" y1="469.50" x2="343.20" y2="469.50" stroke="#555" stroke-width="1.0"/>
<line x1="355.00" y1="468.80" x2="355.00" y2="476.30" stroke="#333" stroke-width="1.0"/>
<line x1="350.40" y1="468.80" x2="359.60" y2="468.80" stroke="#333" stroke-width="1.0"/>
<line x1="355.00" y1="528.10" x2="355.00" y2="581.00" stroke="#333" stroke-width="1.0"/>
<line x1="350.40" y1="581.00" x2="359.60" y2="581.00" stroke="#333" stroke-width="1.0"/>
<rect x="345.05" y="476.30" width="19.90" height="51.80" fill="none" stroke="#555" stroke-width="1.0"/>
<line x1="345.05" y1="508.30" x2="364.95" y2="508.30" stroke="#555" stroke-width="1.0"/>
<line x1="398.60" y1="399.20" x2="398.60" y2="581.00" stroke="#444" stroke-width="1.0"/>
<line x1="393.00" y1="399.20" x2="404.20" y2="399.20" stroke="#444" stroke-width="1.0"/>
<line x1="388.80" y1="469.00" x2="408.40" y2="469.00" stroke="#555" stroke-width="1.0"/>
<line x1="420.00" y1="471.90" x2="420.00" y2="526.20" stroke="#444" stroke-width="1.0"/>
<line x1="414.90" y1="471.90" x2="425.10" y2="471.90" stroke="#444" stroke-width="1.0"/>
<line x1="414.90" y1="526.20" x2="425.10" y2="526.20" stroke="#444" stroke-width="1.0"/>
<line x1="410.00" y1="480.40" x2="430.00" y2="480.40" stroke="#555" stroke-width="1.0"/>
<line x1="463.90" y1="444.90" x2="463.90" y2="468.60" stroke="#333" stroke-width="1.0"/>
<line x1="458.70" y1="444.90" x2="469.10" y2="444.90" stroke="#333" stroke-width="1.0"/>
<line x1="463.90" y1="516.60" x2="463.90" y2="581.00" stroke="#333" stroke-width="1.0"/>
<line x1="458.70" y1="581.00" x2="469.10" y2="581.00" stroke="#333" stroke-width="1.0"/>
<rect x="453.85" y="468.60" width="20.10" height="48.00" fill="none" stroke="#555" stroke-width="1.0"/>
<line x1="453.85" y1="498.80" x2="473.95" y2="498.80" stroke="#555" stroke-width="1.0"/>
<line x1="485.70" y1="513.50" x2="485.70" y2="525.50" stroke="#444" stroke-width="1.0"/>
<line x1="480.90" y1="513.50" x2="490.50" y2="513.50" stroke="#444" stroke-width="1.0"/>
<line x1="480.90" y1="525.50" x2="490.50" y2="525.50" stroke="#444" stroke-width="1.0"/>
<line x1="475.90" y1="515.90" x2="495.50" y2="515.90" stroke="#555" stroke-width="1.0"/>
<line x1="507.60" y1="498.10" x2="507.60" y2="581.00" stroke="#444" stroke-width="1.0"/>
<line x1="502.50" y1="498.10" x2="512.70" y2="498.10" stroke="#444" stroke-width="1.0"/>
<circle cx="333.20" cy="439.10" r="0.8" fill="#1a1a1a"/>
<circle cx="333.20" cy="451.20" r="0.8" fill="#1a1a1a"/>
<circle cx="333.20" cy="458.50" r="0.8" fill="#1a1a1a"/>
<circle cx="333.20" cy="461.90" r="0.8" fill="#1a1a1a"/>
<circle cx="333.20" cy="469.90" r="0.8" fill="#1a1a1a"/>
<circle cx="333.20" cy="477.90" r="0.8" fill="#1a1a1a"/>
<circle cx="333.20" cy="489.30" r="0.8" fill="#1a1a1a"/>
<circle cx="333.20" cy="501.90" r="0.8" fill="#1a1a1a"/>
<circle cx="355.00" cy="483.60" r="0.8" fill="#1a1a1a"/>
<circle cx="355.00" cy="492.70" r="0.8" fill="#1a1a1a"/>
<circle cx="355.00" cy="511.00" r="0.8" fill="#1a1a1a"/>
<circle cx="355.00" cy="528.10" r="0.8" fill="#1a1a1a"/>
<circle cx="398.60" cy="469.00" r="0.8" fill="#1a1a1a"/>
<circle cx="463.90" cy="445.60" r="0.8" fill="#1a1a1a"/>
<circle cx="463.90" cy="449.20" r="0.8" fill="#1a1a1a"/>
<circle cx="463.90" cy="453.90" r="0.8" fill="#1a1a1a"/>
<circle cx="463.90" cy="458.60" r="0.8" fill="#1a1a1a"/>
<circle cx="463.90" cy="468.10" r="0.8" fill="#1a1a1a"/>
<circle cx="463.90" cy="479.90" r="0.8" fill="#1a1a1a"/>
<circle cx="463.90" cy="483.50" r="0.8" fill="#1a1a1a"/>
<circle cx="463.90" cy="487.00" r="0.8" fill="#1a1a1a"/>
<circle cx="463.90" cy="507.10" r="0.8" fill="#1a1a1a"/>
<circle cx="463.90" cy="510.70" r="0.8" fill="#1a1a1a"/>
<circle cx="463.90" cy="514.20" r="0.8" fill="#1a1a1a"/>
<circle cx="463.90" cy="515.40" r="0.8" fill="#1a1a1a"/>
<circle cx="463.90" cy="516.60" r="0.8" fill="#1a1a1a"/>
<circle cx="507.60" cy="517.70" r="0.8" fill="#1a1a1a"/>
<circle cx="507.60" cy="524.80" r="0.8" fill="#1a1a1a"/>
<line x1="328.20" y1="581.00" x2="338.20" y2="581.00" stroke="#555" stroke-width="1.2"/>
<line x1="350.00" y1="581.00" x2="360.00" y2="581.00" stroke="#555" stroke-width="1.2"/>
<line x1="371.60" y1="581.00" x2="381.60" y2="581.00" stroke="#555" stroke-width="1.2"/>
<line x1="393.60" y1="581.00" x2="403.60" y2="581.00" stroke="#555" stroke-width="1.2"/>
<line x1="415.00" y1="581.00" x2="425.00" y2="581.00" stroke="#555" stroke-width="1.2"/>
<line x1="436.80" y1="581.00" x2="446.80" y2="581.00" stroke="#555" stroke-width="1.2"/>
<line x1="458.90" y1="581.00" x2="468.90" y2="581.00" stroke="#555" stroke-width="1.2"/>
<line x1="480.70" y1="581.00" x2="490.70" y2="581.00" stroke="#555" stroke-width="1.2"/>
<line x1="502.60" y1="581.00" x2="512.60" y2="581.00" stroke="#555" stroke-width="1.2"/>
<text x="0.00" y="0.00" font-size="5.65" text-anchor="end" font-weight="bold" fill="#1a1a1a" stroke="#1a1a1a" stroke-width="0.45" transform="translate(335.40 586.50) rotate(-45)">EBV(+) PTLD, untreated (n = 17)</text>
<text x="0.00" y="0.00" font-size="5.65" text-anchor="end" font-weight="bold" fill="#1a1a1a" stroke="#1a1a1a" stroke-width="0.45" transform="translate(357.20 586.50) rotate(-45)">EBV(+) PTLD, in remission (n = 8)</text>
<text x="0.00" y="0.00" font-size="5.65" text-anchor="end" font-weight="bold" fill="#1a1a1a" stroke="#1a1a1a" stroke-width="0.45" transform="translate(378.80 586.50) rotate(-45)">EBV(-) PTLD, in untreated (n = 2)</text>
<text x="0.00" y="0.00" font-size="5.65" text-anchor="end" font-weight="bold" fill="#1a1a1a" stroke="#1a1a1a" stroke-width="0.45" transform="translate(400.80 586.50) rotate(-45)">EBV(+) HLH, untreated (n = 3)</text>
<text x="0.00" y="0.00" font-size="5.65" text-anchor="end" font-weight="bold" fill="#1a1a1a" stroke="#1a1a1a" stroke-width="0.45" transform="translate(422.20 586.50) rotate(-45)">EBV(+) HLH, in remission (n = 2)</text>
<text x="0.00" y="0.00" font-size="5.65" text-anchor="end" font-weight="bold" fill="#1a1a1a" stroke="#1a1a1a" stroke-width="0.45" transform="translate(444.00 586.50) rotate(-45)">EBV(-) HLH, untreated (n = 0)</text>
<text x="0.00" y="0.00" font-size="5.65" text-anchor="end" font-weight="bold" fill="#1a1a1a" stroke="#1a1a1a" stroke-width="0.45" transform="translate(466.10 586.50) rotate(-45)">EBV(+) lymphoma, untreated (n = 25)</text>
<text x="0.00" y="0.00" font-size="5.65" text-anchor="end" font-weight="bold" fill="#1a1a1a" stroke="#1a1a1a" stroke-width="0.45" transform="translate(487.90 586.50) rotate(-45)">EBV(+) lymphoma, in remission (n = 3)</text>
<text x="0.00" y="0.00" font-size="5.65" text-anchor="end" font-weight="bold" fill="#1a1a1a" stroke="#1a1a1a" stroke-width="0.45" transform="translate(509.80 586.50) rotate(-45)">EBV(+) lymphoma, untreated (n = 17)</text>
<text x="0.00" y="0.00" font-size="6.15" text-anchor="middle" font-weight="bold" fill="#1a1a1a" stroke="#1a1a1a" stroke-width="0.36" transform="translate(292.20 462.75) rotate(-90)">EBV DNA copies per 100,000 lymphocytes</text>
<text x="271.00" y="352.50" font-size="12" text-anchor="start" font-weight="bold" fill="#000" stroke="#000" stroke-width="0.4">D</text>
<line x1="333.30" y1="383.80" x2="376.90" y2="383.80" stroke="#444" stroke-width="1.0"/>
<line x1="333.30" y1="382.40" x2="333.30" y2="385.20" stroke="#444" stroke-width="0.9"/>
<line x1="376.90" y1="382.40" x2="376.90" y2="385.20" stroke="#444" stroke-width="0.9"/>
<text x="352.50" y="381.20" font-size="5.3" text-anchor="middle" font-weight="bold" fill="#222" stroke="#222" stroke-width="0.25"><tspan font-style="italic">P</tspan> &lt; .01</text>
<line x1="333.30" y1="395.00" x2="355.50" y2="395.00" stroke="#444" stroke-width="1.0"/>
<line x1="333.30" y1="393.60" x2="333.30" y2="396.40" stroke="#444" stroke-width="0.9"/>
<line x1="355.50" y1="393.60" x2="355.50" y2="396.40" stroke="#444" stroke-width="0.9"/>
<text x="342.50" y="392.00" font-size="5.3" text-anchor="middle" font-weight="bold" fill="#222" stroke="#222" stroke-width="0.25"><tspan font-style="italic">P</tspan> &lt; .0001</text>
<line x1="463.80" y1="434.30" x2="507.70" y2="434.30" stroke="#444" stroke-width="1.0"/>
<line x1="463.80" y1="432.90" x2="463.80" y2="435.70" stroke="#444" stroke-width="0.9"/>
<line x1="507.70" y1="432.90" x2="507.70" y2="435.70" stroke="#444" stroke-width="0.9"/>
<text x="483.00" y="431.80" font-size="5.3" text-anchor="middle" font-weight="bold" fill="#222" stroke="#222" stroke-width="0.25"><tspan font-style="italic">P</tspan> &lt; .0001</text>
</svg></body></html>
